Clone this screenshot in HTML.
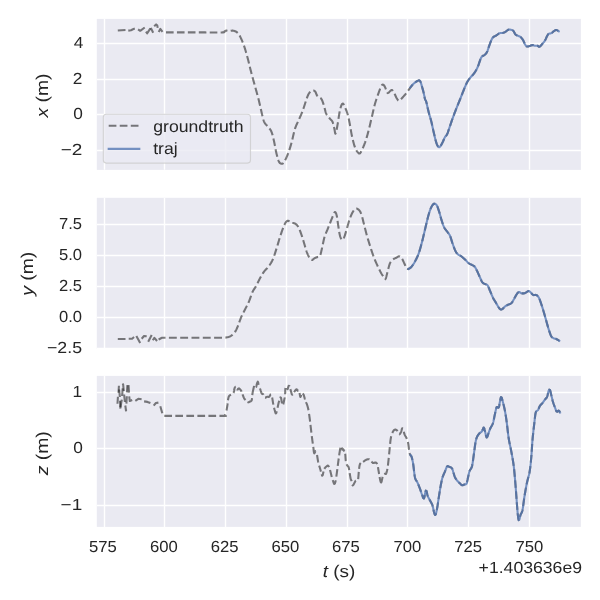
<!DOCTYPE html>
<html><head><meta charset="utf-8"><title>traj xyz</title>
<style>
html,body{margin:0;padding:0;background:#fff;}
body{width:600px;height:600px;overflow:hidden;}
svg{display:block;will-change:transform;}
text{text-rendering:geometricPrecision;font-family:"Liberation Sans",sans-serif;fill:#262626;}
.it{font-style:italic;}
</style></head><body>
<svg width="600" height="600" viewBox="0 0 600 600">
<rect width="600" height="600" fill="#ffffff"/>
<g>
<rect x="96.8" y="18.9" width="484.1" height="151.0" fill="#eaeaf2"/>
<clipPath id="c0"><rect x="96.8" y="18.9" width="484.1" height="151.0"/></clipPath>
<g clip-path="url(#c0)" stroke="#ffffff" stroke-width="1.39">
<line x1="104.50" y1="18.9" x2="104.50" y2="169.8"/>
<line x1="164.50" y1="18.9" x2="164.50" y2="169.8"/>
<line x1="225.50" y1="18.9" x2="225.50" y2="169.8"/>
<line x1="286.50" y1="18.9" x2="286.50" y2="169.8"/>
<line x1="347.50" y1="18.9" x2="347.50" y2="169.8"/>
<line x1="407.50" y1="18.9" x2="407.50" y2="169.8"/>
<line x1="468.50" y1="18.9" x2="468.50" y2="169.8"/>
<line x1="529.50" y1="18.9" x2="529.50" y2="169.8"/>
<line x1="96.8" y1="43.50" x2="581.0" y2="43.50"/>
<line x1="96.8" y1="79.50" x2="581.0" y2="79.50"/>
<line x1="96.8" y1="114.50" x2="581.0" y2="114.50"/>
<line x1="96.8" y1="150.50" x2="581.0" y2="150.50"/>
</g>
</g>
<g>
<rect x="96.8" y="197.8" width="484.1" height="151.2" fill="#eaeaf2"/>
<clipPath id="c1"><rect x="96.8" y="197.8" width="484.1" height="151.2"/></clipPath>
<g clip-path="url(#c1)" stroke="#ffffff" stroke-width="1.39">
<line x1="104.50" y1="197.8" x2="104.50" y2="349.1"/>
<line x1="164.50" y1="197.8" x2="164.50" y2="349.1"/>
<line x1="225.50" y1="197.8" x2="225.50" y2="349.1"/>
<line x1="286.50" y1="197.8" x2="286.50" y2="349.1"/>
<line x1="347.50" y1="197.8" x2="347.50" y2="349.1"/>
<line x1="407.50" y1="197.8" x2="407.50" y2="349.1"/>
<line x1="468.50" y1="197.8" x2="468.50" y2="349.1"/>
<line x1="529.50" y1="197.8" x2="529.50" y2="349.1"/>
<line x1="96.8" y1="224.50" x2="581.0" y2="224.50"/>
<line x1="96.8" y1="255.50" x2="581.0" y2="255.50"/>
<line x1="96.8" y1="286.50" x2="581.0" y2="286.50"/>
<line x1="96.8" y1="317.50" x2="581.0" y2="317.50"/>
<line x1="96.8" y1="348.50" x2="581.0" y2="348.50"/>
</g>
</g>
<g>
<rect x="96.8" y="375.9" width="484.1" height="151.0" fill="#eaeaf2"/>
<clipPath id="c2"><rect x="96.8" y="375.9" width="484.1" height="151.0"/></clipPath>
<g clip-path="url(#c2)" stroke="#ffffff" stroke-width="1.39">
<line x1="104.50" y1="375.9" x2="104.50" y2="527.0"/>
<line x1="164.50" y1="375.9" x2="164.50" y2="527.0"/>
<line x1="225.50" y1="375.9" x2="225.50" y2="527.0"/>
<line x1="286.50" y1="375.9" x2="286.50" y2="527.0"/>
<line x1="347.50" y1="375.9" x2="347.50" y2="527.0"/>
<line x1="407.50" y1="375.9" x2="407.50" y2="527.0"/>
<line x1="468.50" y1="375.9" x2="468.50" y2="527.0"/>
<line x1="529.50" y1="375.9" x2="529.50" y2="527.0"/>
<line x1="96.8" y1="392.50" x2="581.0" y2="392.50"/>
<line x1="96.8" y1="448.50" x2="581.0" y2="448.50"/>
<line x1="96.8" y1="505.50" x2="581.0" y2="505.50"/>
</g>
</g>
<g clip-path="url(#c0)" fill="none" stroke-linejoin="round">
<path d="M117.80,30.50 L121.50,30.20 L125.50,30.00" stroke="rgba(0,0,0,0.5)" stroke-width="2.08"/>
<path d="M128.30,30.60 L131.00,30.20 L133.00,29.20 L134.80,28.60" stroke="rgba(0,0,0,0.5)" stroke-width="2.08"/>
<path d="M138.10,29.30 L140.20,30.80 L144.70,27.50" stroke="rgba(0,0,0,0.5)" stroke-width="2.08"/>
<path d="M146.00,31.60 L147.10,33.30 L150.40,28.40" stroke="rgba(0,0,0,0.5)" stroke-width="2.08"/>
<path d="M150.80,27.90 L153.20,32.80" stroke="rgba(0,0,0,0.5)" stroke-width="2.08"/>
<path d="M154.20,26.20 L156.10,24.40 L157.30,25.60 L157.70,27.90" stroke="rgba(0,0,0,0.5)" stroke-width="2.08"/>
<path d="M158.70,31.90 L160.30,28.90 L162.50,31.90" stroke="rgba(0,0,0,0.5)" stroke-width="2.08"/>
<path d="M166,32.40 L166.82,32.40 L167.61,32.40 L168.49,32.40 L169.26,32.40 L170.08,32.40 L170.94,32.40 L171.85,32.40 L172.56,32.40 L173.29,32.40 L174.04,32.40 L174.81,32.40 L175.59,32.40 L176.39,32.40 L177.21,32.40 L178.04,32.40 L178.88,32.40 L179.73,32.40 L180.58,32.40 L181.45,32.40 L182.32,32.40 L183.19,32.40 L184.07,32.40 L184.95,32.40 L185.83,32.40 L186.71,32.40 L187.58,32.40 L188.45,32.40 L189.32,32.40 L190.17,32.40 L191.02,32.40 L191.86,32.40 L192.69,32.40 L193.50,32.40 L194.30,32.40 L195.08,32.40 L195.85,32.40 L196.60,32.40 L197.32,32.40 L198.03,32.40 L198.93,32.40 L199.79,32.40 L200.62,32.40 L201.55,32.40 L202.47,32.40 L203.39,32.41 L204.30,32.41 L205.20,32.41 L206.10,32.42 L206.99,32.42 L207.86,32.43 L208.73,32.43 L209.58,32.44 L210.42,32.44 L211.25,32.45 L212.06,32.45 L212.86,32.45 L213.64,32.46 L214.40,32.46 L215.14,32.46 L215.86,32.47 L216.56,32.47 L217.47,32.47 L218.33,32.46 L219.14,32.46 L219.91,32.45 L220.64,32.44 L221.47,32.43 L222.22,32.41 L223.62,32.34 L224.33,32.26 L224.50,31.50 L225.11,31.11 L225.71,30.73 L226.44,30.59 L227.33,30.68 L228.08,30.82 L228.83,30.94 L229.76,30.99 L230.48,30.88 L231.36,30.68 L232.26,30.60 L233.01,30.66 L233.73,30.78 L234.43,30.97 L235.13,31.19 L235.80,31.49 L236.43,31.87 L237.15,32.43 L237.68,32.93 L238.20,33.50 L238.67,34.04 L239.10,34.60 L239.49,35.25 L240,36.25 L240.30,36.88 L240.64,37.59 L241.01,38.38 L241.40,39.23 L241.70,39.90 L242.01,40.60 L242.32,41.33 L242.64,42.09 L242.95,42.86 L243.26,43.65 L243.56,44.46 L243.82,45.20 L244.10,46.02 L244.39,46.87 L244.67,47.75 L244.88,48.42 L245.09,49.10 L245.31,49.80 L245.52,50.50 L245.73,51.22 L245.94,51.94 L246.16,52.68 L246.37,53.42 L246.58,54.17 L246.79,54.93 L247,55.70 L247.22,56.47 L247.43,57.24 L247.62,57.95 L247.80,58.63 L247.98,59.32 L248.17,60.03 L248.35,60.74 L248.53,61.47 L248.71,62.20 L248.89,62.94 L249.07,63.68 L249.25,64.42 L249.44,65.17 L249.62,65.92 L249.80,66.67 L249.98,67.42 L250.16,68.16 L250.34,68.90 L250.52,69.64 L250.71,70.37 L250.89,71.09 L251.07,71.80 L251.25,72.50 L251.44,73.24 L251.64,73.97 L251.83,74.70 L252.03,75.43 L252.22,76.14 L252.41,76.86 L252.61,77.57 L252.80,78.28 L253,78.98 L253.19,79.69 L253.38,80.39 L253.58,81.09 L253.77,81.79 L253.97,82.49 L254.16,83.19 L254.35,83.89 L254.55,84.60 L254.74,85.30 L254.94,86.01 L255.13,86.72 L255.32,87.43 L255.52,88.13 L255.71,88.82 L255.91,89.51 L256.10,90.20 L256.29,90.89 L256.49,91.58 L256.68,92.28 L256.88,92.97 L257.07,93.67 L257.26,94.37 L257.46,95.07 L257.65,95.79 L257.84,96.51 L258.04,97.24 L258.23,97.98 L258.43,98.72 L258.62,99.49 L258.81,100.23 L258.98,100.92 L259.15,101.64 L259.33,102.39 L259.50,103.15 L259.68,103.92 L259.86,104.71 L260.04,105.51 L260.23,106.32 L260.41,107.12 L260.59,107.93 L260.76,108.73 L260.94,109.52 L261.11,110.30 L261.29,111.06 L261.45,111.81 L261.62,112.54 L261.78,113.24 L261.98,114.13 L262.18,114.96 L262.37,115.72 L262.60,116.65 L262.79,117.40 L263.04,118.36 L263.26,119.17 L263.45,119.85 L263.70,120.62 L263.95,121.31 L264.24,121.97 L264.63,122.74 L265.02,123.39 L265.45,123.95 L266.04,124.62 L266.67,125.28 L267.17,125.84 L267.63,126.42 L268.19,127.08 L268.79,127.74 L269.41,128.44 L269.86,129 L270.31,129.60 L270.73,130.26 L271.13,130.99 L271.50,131.82 L271.80,132.62 L272.08,133.46 L272.35,134.35 L272.55,135.04 L272.74,135.76 L272.92,136.50 L273.11,137.27 L273.30,138.06 L273.49,138.87 L273.68,139.71 L273.85,140.43 L274.04,141.32 L274.19,142.03 L274.34,142.76 L274.49,143.52 L274.63,144.29 L274.78,145.07 L274.93,145.85 L275.07,146.65 L275.22,147.43 L275.37,148.21 L275.51,148.98 L275.66,149.74 L275.81,150.47 L275.96,151.18 L276.15,152.07 L276.32,152.79 L276.52,153.64 L276.72,154.48 L276.93,155.30 L277.13,156.10 L277.33,156.88 L277.53,157.62 L277.74,158.33 L277.94,159.01 L278.21,159.84 L278.48,160.59 L278.75,161.25 L279.08,161.93 L279.58,162.69 L280.08,163.20 L280.75,163.59 L281.45,163.80 L282.23,163.81 L283.04,163.34 L283.75,162.50 L284.23,161.77 L284.65,161.06 L285.09,160.26 L285.43,159.60 L285.78,158.91 L286.13,158.18 L286.48,157.41 L286.82,156.63 L287.16,155.82 L287.50,155 L287.81,154.21 L288.13,153.39 L288.44,152.54 L288.75,151.67 L288.98,151 L289.22,150.31 L289.45,149.61 L289.69,148.89 L289.92,148.16 L290.16,147.42 L290.39,146.66 L290.62,145.89 L290.86,145.10 L291.09,144.29 L291.31,143.54 L291.55,142.65 L291.73,141.95 L291.92,141.23 L292.10,140.49 L292.28,139.74 L292.46,138.97 L292.64,138.19 L292.82,137.41 L293,136.62 L293.19,135.83 L293.37,135.05 L293.55,134.27 L293.73,133.51 L293.91,132.76 L294.09,132.03 L294.27,131.32 L294.46,130.63 L294.70,129.76 L294.94,128.94 L295.19,128.16 L295.48,127.32 L295.77,126.55 L296.06,125.83 L296.35,125.15 L296.63,124.50 L297.02,123.68 L297.40,122.88 L297.79,122.09 L298.17,121.28 L298.56,120.44 L298.85,119.78 L299.13,119.11 L299.42,118.46 L299.71,117.82 L300,117.18 L300.29,116.53 L300.58,115.89 L300.87,115.24 L301.15,114.58 L301.44,113.90 L301.73,113.21 L302.02,112.49 L302.31,111.76 L302.58,111.04 L302.90,110.16 L303.14,109.46 L303.38,108.74 L303.63,108 L303.88,107.25 L304.13,106.49 L304.37,105.72 L304.62,104.96 L304.86,104.21 L305.09,103.47 L305.32,102.75 L305.55,102.06 L305.84,101.18 L306.12,100.38 L306.36,99.68 L306.68,98.77 L306.97,97.94 L307.25,97.18 L307.50,96.47 L307.76,95.82 L308.10,95.01 L308.46,94.27 L308.91,93.48 L309.42,92.75 L309.94,92.11 L310.47,91.57 L311.20,91.03 L311.98,90.67 L312.68,90.51 L313.41,90.50 L314.12,90.68 L314.79,91.07 L315.35,91.70 L315.78,92.52 L316.07,93.24 L316.37,94.01 L316.67,94.77 L317,95.47 L317.37,96.08 L317.85,96.60 L318.63,97.10 L319.48,97.47 L320.12,97.77 L320.71,98.17 L321.25,98.75 L321.69,99.45 L322.08,100.25 L322.36,100.91 L322.62,101.60 L322.88,102.34 L323.13,103.11 L323.39,103.90 L323.66,104.72 L323.88,105.42 L324.14,106.32 L324.33,107.04 L324.52,107.79 L324.70,108.55 L324.89,109.32 L325.08,110.09 L325.28,110.85 L325.48,111.59 L325.70,112.29 L326,113.16 L326.37,114.01 L326.77,114.75 L327.20,115.42 L327.66,116.04 L328.12,116.61 L328.59,117.14 L329.19,117.81 L329.75,118.44 L330.19,118.99 L330.73,119.56 L331.38,120.17 L331.96,120.82 L332.37,121.48 L332.66,122.13 L332.95,122.98 L333.16,123.69 L333.36,124.45 L333.54,125.22 L333.73,126.01 L333.90,126.78 L334.08,127.53 L334.26,128.26 L334.44,129.16 L334.62,130.15 L334.78,131.17 L334.94,132.12 L335.11,132.93 L335.34,133.64 L335.93,133.06 L336.12,132.35 L336.33,131.45 L336.48,130.67 L336.64,129.82 L336.80,128.92 L336.97,127.97 L337.14,126.99 L337.32,125.99 L337.50,125 L337.65,124.18 L337.80,123.28 L337.91,122.56 L338.03,121.81 L338.15,121.03 L338.28,120.24 L338.40,119.43 L338.52,118.60 L338.65,117.77 L338.78,116.95 L338.90,116.12 L339.03,115.31 L339.16,114.51 L339.29,113.74 L339.41,112.99 L339.54,112.27 L339.71,111.38 L339.88,110.56 L340.09,109.62 L340.27,108.89 L340.45,108.21 L340.73,107.25 L341.01,106.40 L341.28,105.64 L341.55,104.99 L341.91,104.28 L342.34,103.66 L343.08,103.47 L343.60,104.25 L344.01,105.18 L344.33,105.89 L344.66,106.58 L345,107.31 L345.37,108.13 L345.66,108.80 L345.95,109.51 L346.25,110.23 L346.54,110.98 L346.82,111.74 L347.09,112.50 L347.34,113.25 L347.57,113.97 L347.83,114.86 L348.06,115.73 L348.28,116.61 L348.48,117.51 L348.63,118.20 L348.78,118.92 L348.94,119.67 L349.09,120.46 L349.26,121.30 L349.44,122.19 L349.58,122.91 L349.74,123.77 L349.91,124.69 L350.04,125.40 L350.16,126.14 L350.29,126.89 L350.42,127.66 L350.55,128.43 L350.69,129.22 L350.82,130.01 L350.96,130.79 L351.10,131.58 L351.23,132.36 L351.38,133.13 L351.52,133.88 L351.66,134.62 L351.80,135.33 L351.95,136.03 L352.12,136.78 L352.30,137.58 L352.48,138.39 L352.67,139.19 L352.86,139.98 L353.05,140.76 L353.24,141.54 L353.44,142.30 L353.63,143.04 L353.83,143.76 L354.03,144.46 L354.29,145.35 L354.55,146.19 L354.81,146.96 L355.13,147.83 L355.51,148.74 L355.91,149.54 L356.30,150.24 L356.69,150.85 L357.20,151.54 L357.67,152.12 L358.26,152.80 L358.93,153.41 L359.76,153.42 L360.33,152.91 L360.78,152.25 L361.13,151.63 L361.49,150.92 L361.86,150.14 L362.24,149.32 L362.58,148.57 L362.92,147.81 L363.28,147.02 L363.63,146.19 L363.91,145.53 L364.18,144.85 L364.46,144.14 L364.74,143.40 L365.03,142.62 L365.31,141.81 L365.57,141.05 L365.84,140.23 L366.11,139.37 L366.38,138.48 L366.59,137.79 L366.80,137.09 L367,136.38 L367.21,135.65 L367.42,134.91 L367.63,134.16 L367.84,133.40 L368.05,132.63 L368.26,131.85 L368.47,131.06 L368.68,130.27 L368.86,129.56 L369.04,128.88 L369.21,128.19 L369.38,127.48 L369.55,126.77 L369.73,126.04 L369.90,125.31 L370.07,124.57 L370.25,123.83 L370.42,123.08 L370.59,122.33 L370.76,121.58 L370.94,120.83 L371.11,120.09 L371.28,119.35 L371.44,118.62 L371.61,117.90 L371.78,117.18 L371.95,116.48 L372.12,115.75 L372.30,114.99 L372.47,114.25 L372.64,113.50 L372.81,112.76 L372.97,112.03 L373.14,111.29 L373.30,110.57 L373.47,109.84 L373.64,109.12 L373.80,108.41 L373.97,107.70 L374.15,106.99 L374.32,106.29 L374.50,105.59 L374.68,104.90 L374.87,104.21 L375.07,103.50 L375.29,102.75 L375.52,102 L375.75,101.24 L376,100.48 L376.24,99.72 L376.49,98.97 L376.74,98.23 L376.99,97.49 L377.24,96.77 L377.48,96.06 L377.73,95.38 L377.96,94.71 L378.26,93.86 L378.55,93.06 L378.86,92.18 L379.19,91.26 L379.51,90.41 L379.80,89.62 L380.08,88.90 L380.35,88.23 L380.69,87.43 L381.01,86.72 L381.45,85.87 L381.82,85.26 L382.32,84.68 L383,84.50 L383.73,84.99 L384.18,85.59 L384.66,86.38 L385,87 L385.34,87.77 L385.61,88.50 L385.89,89.30 L386.17,90.13 L386.46,90.94 L386.74,91.68 L387.12,92.49" stroke="rgba(0,0,0,0.5)" stroke-width="2.08" stroke-dasharray="7.63 3.30"/>
<path d="M387.12,92.49 L387.69,93.12 L388.48,92.87 L389.07,92.24 L389.64,91.57 L390.22,91.08 L390.81,90.47 L391.38,89.99 L392.12,90.08 L392.62,90.60 L393.15,91.37 L393.56,92.06 L393.96,92.79 L394.37,93.52 L394.72,94.15 L395.05,94.81 L395.38,95.52 L395.71,96.24 L396.04,96.95 L396.37,97.63 L396.79,98.42 L397.18,99.02 L397.68,99.76 L398.16,100.35 L398.85,100.76 L399.55,100.63 L400.19,100.15 L400.69,99.61 L401.22,99 L401.77,98.34 L402.32,97.70 L402.81,97.17 L403.29,96.65 L403.79,96.11 L404.29,95.55 L404.80,94.98 L405.29,94.40 L405.78,93.82 L406.25,93.25 L406.70,92.68 L407.13,92.09 L407.55,91.50 L407.96,90.91 L408.37,90.32 L408.79,89.73 L409.21,89.14 L409.65,88.55 L410.10,87.95 L410.56,87.33 L411.03,86.71 L411.50,86.10 L411.96,85.51 L412.42,84.96 L413,84.30 L413.60,83.69 L414.19,83.16 L414.76,82.70 L415.49,82.16 L416.24,81.64 L416.94,81.23 L417.58,80.91 L418.30,80.60 L419.01,80.30 L419.66,80.59 L420.20,81.22 L420.60,82 L420.87,82.74 L421.14,83.62 L421.35,84.37 L421.56,85.16 L421.80,86 L422.04,86.83 L422.30,87.71 L422.51,88.41 L422.71,89.13 L422.92,89.87 L423.13,90.64 L423.33,91.43 L423.51,92.15 L423.67,92.88 L423.84,93.65 L424,94.45 L424.17,95.26 L424.33,96.06 L424.49,96.84 L424.65,97.57 L424.85,98.45 L425.10,99.34 L425.45,100.05 L425.88,100.71 L426.25,101.80 L426.43,102.48 L426.63,103.29 L426.84,104.20 L427.01,104.94 L427.18,105.71 L427.36,106.51 L427.54,107.32 L427.73,108.15 L427.91,108.97 L428.10,109.78 L428.28,110.57 L428.46,111.33 L428.64,112.05 L428.82,112.76 L429.02,113.52 L429.22,114.24 L429.43,114.94 L429.63,115.62 L429.90,116.51 L430.17,117.40 L430.44,118.30 L430.64,118.99 L430.84,119.71 L431.05,120.46 L431.25,121.25 L431.46,122.12 L431.62,122.80 L431.78,123.50 L431.94,124.22 L432.10,124.94 L432.26,125.68 L432.42,126.42 L432.58,127.17 L432.74,127.92 L432.90,128.67 L433.06,129.41 L433.22,130.14 L433.38,130.87 L433.54,131.58 L433.70,132.27 L433.87,133.01 L434.05,133.78 L434.23,134.57 L434.42,135.35 L434.60,136.14 L434.79,136.92 L434.97,137.69 L435.15,138.44 L435.33,139.17 L435.51,139.87 L435.75,140.76 L435.98,141.58 L436.20,142.33 L436.48,143.21 L436.82,144.14 L437.14,144.91 L437.45,145.56 L437.85,146.23 L438.48,146.98 L439.30,147.25 L440,146.75 L440.45,146.19 L440.95,145.42 L441.33,144.73 L441.73,144 L442.12,143.25 L442.50,142.50 L442.91,141.66 L443.21,140.97 L443.52,140.25 L443.83,139.52 L444.14,138.81 L444.43,138.14 L444.82,137.34 L445.17,136.72 L445.64,136.16 L446.22,135.65 L446.67,135.10 L447.08,134.34 L447.38,133.61 L447.70,132.79 L447.94,132.11 L448.19,131.39 L448.44,130.64 L448.70,129.87 L448.96,129.08 L449.23,128.29 L449.50,127.50 L449.79,126.66 L450.09,125.79 L450.38,124.91 L450.61,124.23 L450.84,123.54 L451.08,122.85 L451.32,122.14 L451.56,121.43 L451.81,120.70 L452.06,119.98 L452.32,119.24 L452.58,118.53 L452.82,117.86 L453.07,117.19 L453.32,116.49 L453.58,115.79 L453.84,115.09 L454.11,114.38 L454.37,113.66 L454.64,112.95 L454.91,112.23 L455.18,111.52 L455.45,110.82 L455.72,110.12 L455.99,109.43 L456.25,108.75 L456.53,108.03 L456.81,107.32 L457.09,106.62 L457.37,105.93 L457.66,105.24 L457.94,104.55 L458.22,103.87 L458.50,103.18 L458.78,102.50 L459.06,101.81 L459.34,101.12 L459.62,100.43 L459.91,99.73 L460.18,99.04 L460.46,98.34 L460.74,97.63 L461.02,96.92 L461.30,96.20 L461.58,95.48 L461.86,94.76 L462.14,94.05 L462.41,93.34 L462.69,92.64 L462.96,91.96 L463.23,91.29 L463.49,90.63 L463.86,89.74 L464.17,88.98 L464.48,88.22 L464.78,87.48 L465.08,86.76 L465.37,86.05 L465.66,85.37 L465.95,84.70 L466.34,83.86 L466.72,83.06 L467.14,82.23 L467.55,81.50 L467.95,80.84 L468.34,80.24 L468.86,79.49 L469.41,78.76 L469.85,78.20 L470.30,77.63 L470.77,77.10 L471.25,76.58 L471.74,76.07 L472.25,75.55 L472.75,74.99 L473.26,74.40 L473.75,73.75 L474.25,73.05 L474.75,72.32 L475.25,71.57 L475.75,70.78 L476.12,70.15 L476.50,69.49 L476.88,68.78 L477.25,68.03 L477.59,67.31 L477.94,66.46 L478.20,65.76 L478.47,65.02 L478.74,64.25 L479.01,63.46 L479.27,62.66 L479.54,61.87 L479.80,61.09 L480.07,60.33 L480.33,59.62 L480.58,58.95 L480.92,58.16 L481.25,57.50 L481.66,56.87 L482.27,56.23 L483.05,55.77 L483.80,55.46 L484.50,55 L485.02,54.53 L485.65,53.94 L486.24,53.25 L486.69,52.57 L487.08,51.83 L487.42,51.06 L487.67,50.40 L487.92,49.70 L488.17,48.96 L488.42,48.19 L488.67,47.43 L488.92,46.67 L489.17,45.93 L489.42,45.22 L489.69,44.50 L489.97,43.74 L490.26,42.96 L490.56,42.19 L490.84,41.44 L491.13,40.72 L491.41,40.05 L491.76,39.25 L492.18,38.41 L492.66,37.68 L493.24,37.13 L493.93,36.62 L494.70,36.23 L495.55,35.87 L496.25,35.50 L497.02,34.96 L497.63,34.48 L498.27,33.99 L498.90,33.56 L499.74,33.17 L500.44,33.06 L501.36,33.08 L502.27,33.05 L503.14,32.82 L503.98,32.50 L504.62,32.21 L505.28,31.87 L505.90,31.50 L506.52,31.03 L507.16,30.52 L507.78,30.03 L508.38,29.66 L509.26,29.42 L509.97,29.53 L510.84,29.86 L511.72,30.09 L512.58,30.27 L513.25,30.75 L513.73,31.43 L514.10,32.11 L514.47,32.84 L514.85,33.56 L515.24,34.18 L515.90,34.85 L516.52,35.20 L517.37,35.50 L518.21,35.85 L519.04,36.18 L519.88,36.56 L520.50,37 L521.14,37.60 L521.62,38.12 L522.10,38.71 L522.56,39.34 L523,40 L523.34,40.62 L523.67,41.32 L523.98,42.05 L524.28,42.78 L524.59,43.46 L525,44.25 L525.44,44.97 L525.87,45.59 L526.47,46.23 L527.20,46.54 L528.10,46.43 L528.84,46.18 L529.56,45.90 L530.25,45.68 L530.95,45.41 L531.61,45.16 L532.50,45 L533.41,45.19 L534.09,45.47 L534.77,45.70 L535.70,45.78 L536.63,45.71 L537.50,45.75 L538.19,46.14 L538.81,46.64 L539.65,46.69 L540.28,46.22 L540.77,45.70 L541.28,45.10 L541.82,44.46 L542.28,43.93 L542.89,43.23 L543.37,42.68 L543.85,42.10 L544.31,41.50 L544.74,40.90 L545.13,40.29 L545.49,39.61 L545.82,38.90 L546.13,38.18 L546.42,37.48 L546.71,36.83 L547.14,35.99 L547.53,35.29 L547.91,34.67 L548.44,34.01 L549.16,33.56 L550.07,33.47 L550.79,33.41 L551.44,33.14 L552.02,32.72 L552.60,32.21 L553.17,31.69 L553.75,31.25 L554.38,30.83 L555,30.42 L555.83,30.05 L556.70,30.08 L557.42,30.41 L558.10,30.83 L558.75,31.25" stroke="rgba(0,0,0,0.5)" stroke-width="2.08" stroke-dasharray="7.71 3.33"/>
<path d="M410.40,87.30 L410.86,86.75 L411.34,86.17 L411.88,85.52 L412.45,84.87 L413,84.30 L413.55,83.78 L414.13,83.27 L414.71,82.78 L415.29,82.32 L416,81.80 L416.71,81.35 L417.38,81 L418.14,80.67 L418.82,80.36 L419.53,80.49 L420.06,81.03 L420.47,81.71 L420.81,82.54 L421.07,83.39 L421.28,84.11 L421.49,84.89 L421.72,85.72 L421.92,86.41 L422.17,87.27 L422.37,87.94 L422.57,88.64 L422.78,89.37 L422.99,90.12 L423.20,90.90 L423.40,91.70 L423.56,92.39 L423.73,93.13 L423.89,93.91 L424.06,94.72 L424.22,95.53 L424.39,96.33 L424.55,97.09 L424.70,97.80 L424.90,98.64 L425.10,99.34 L425.45,100.05 L425.88,100.71 L426.25,101.80 L426.43,102.48 L426.63,103.29 L426.84,104.20 L427.01,104.94 L427.18,105.71 L427.36,106.51 L427.54,107.32 L427.73,108.15 L427.91,108.97 L428.10,109.78 L428.28,110.57 L428.46,111.33 L428.64,112.05 L428.82,112.76 L429.02,113.52 L429.22,114.24 L429.43,114.94 L429.63,115.62 L429.90,116.51 L430.17,117.40 L430.44,118.30 L430.64,118.99 L430.84,119.71 L431.05,120.46 L431.25,121.25 L431.46,122.12 L431.62,122.80 L431.78,123.50 L431.94,124.22 L432.10,124.94 L432.26,125.68 L432.42,126.42 L432.58,127.17 L432.74,127.92 L432.90,128.67 L433.06,129.41 L433.22,130.14 L433.38,130.87 L433.54,131.58 L433.70,132.27 L433.87,133.01 L434.05,133.78 L434.23,134.57 L434.42,135.35 L434.60,136.14 L434.79,136.92 L434.97,137.69 L435.15,138.44 L435.33,139.17 L435.51,139.87 L435.75,140.76 L435.98,141.58 L436.20,142.33 L436.48,143.21 L436.82,144.14 L437.14,144.91 L437.45,145.56 L437.85,146.23 L438.48,146.98 L439.30,147.25 L440,146.75 L440.45,146.19 L440.95,145.42 L441.33,144.73 L441.73,144 L442.12,143.25 L442.50,142.50 L442.91,141.66 L443.21,140.97 L443.52,140.25 L443.83,139.52 L444.14,138.81 L444.43,138.14 L444.82,137.34 L445.17,136.72 L445.64,136.16 L446.22,135.65 L446.67,135.10 L447.08,134.34 L447.38,133.61 L447.70,132.79 L447.94,132.11 L448.19,131.39 L448.44,130.64 L448.70,129.87 L448.96,129.08 L449.23,128.29 L449.50,127.50 L449.79,126.66 L450.09,125.79 L450.38,124.91 L450.61,124.23 L450.84,123.54 L451.08,122.85 L451.32,122.14 L451.56,121.43 L451.81,120.70 L452.06,119.98 L452.32,119.24 L452.58,118.53 L452.82,117.86 L453.07,117.19 L453.32,116.49 L453.58,115.79 L453.84,115.09 L454.11,114.38 L454.37,113.66 L454.64,112.95 L454.91,112.23 L455.18,111.52 L455.45,110.82 L455.72,110.12 L455.99,109.43 L456.25,108.75 L456.53,108.03 L456.81,107.32 L457.09,106.62 L457.37,105.93 L457.66,105.24 L457.94,104.55 L458.22,103.87 L458.50,103.18 L458.78,102.50 L459.06,101.81 L459.34,101.12 L459.62,100.43 L459.91,99.73 L460.18,99.04 L460.46,98.34 L460.74,97.63 L461.02,96.92 L461.30,96.20 L461.58,95.48 L461.86,94.76 L462.14,94.05 L462.41,93.34 L462.69,92.64 L462.96,91.96 L463.23,91.29 L463.49,90.63 L463.86,89.74 L464.17,88.98 L464.48,88.22 L464.78,87.48 L465.08,86.76 L465.37,86.05 L465.66,85.37 L465.95,84.70 L466.34,83.86 L466.72,83.06 L467.14,82.23 L467.55,81.50 L467.95,80.84 L468.34,80.24 L468.86,79.49 L469.41,78.76 L469.85,78.20 L470.30,77.63 L470.77,77.10 L471.25,76.58 L471.74,76.07 L472.25,75.55 L472.75,74.99 L473.26,74.40 L473.75,73.75 L474.25,73.05 L474.75,72.32 L475.25,71.57 L475.75,70.78 L476.12,70.15 L476.50,69.49 L476.88,68.78 L477.25,68.03 L477.59,67.31 L477.94,66.46 L478.20,65.76 L478.47,65.02 L478.74,64.25 L479.01,63.46 L479.27,62.66 L479.54,61.87 L479.80,61.09 L480.07,60.33 L480.33,59.62 L480.58,58.95 L480.92,58.16 L481.25,57.50 L481.66,56.87 L482.27,56.23 L483.05,55.77 L483.80,55.46 L484.50,55 L485.02,54.53 L485.65,53.94 L486.24,53.25 L486.69,52.57 L487.08,51.83 L487.42,51.06 L487.67,50.40 L487.92,49.70 L488.17,48.96 L488.42,48.19 L488.67,47.43 L488.92,46.67 L489.17,45.93 L489.42,45.22 L489.69,44.50 L489.97,43.74 L490.26,42.96 L490.56,42.19 L490.84,41.44 L491.13,40.72 L491.41,40.05 L491.76,39.25 L492.18,38.41 L492.66,37.68 L493.24,37.13 L493.93,36.62 L494.70,36.23 L495.55,35.87 L496.25,35.50 L497.02,34.96 L497.63,34.48 L498.27,33.99 L498.90,33.56 L499.74,33.17 L500.44,33.06 L501.36,33.08 L502.27,33.05 L503.14,32.82 L503.98,32.50 L504.62,32.21 L505.28,31.87 L505.90,31.50 L506.52,31.03 L507.16,30.52 L507.78,30.03 L508.38,29.66 L509.26,29.42 L509.97,29.53 L510.84,29.86 L511.72,30.09 L512.58,30.27 L513.25,30.75 L513.73,31.43 L514.10,32.11 L514.47,32.84 L514.85,33.56 L515.24,34.18 L515.90,34.85 L516.52,35.20 L517.37,35.50 L518.21,35.85 L519.04,36.18 L519.88,36.56 L520.50,37 L521.14,37.60 L521.62,38.12 L522.10,38.71 L522.56,39.34 L523,40 L523.34,40.62 L523.67,41.32 L523.98,42.05 L524.28,42.78 L524.59,43.46 L525,44.25 L525.44,44.97 L525.87,45.59 L526.47,46.23 L527.20,46.54 L528.10,46.43 L528.84,46.18 L529.56,45.90 L530.25,45.68 L530.95,45.41 L531.61,45.16 L532.50,45 L533.41,45.19 L534.09,45.47 L534.77,45.70 L535.70,45.78 L536.63,45.71 L537.50,45.75 L538.19,46.14 L538.81,46.64 L539.65,46.69 L540.28,46.22 L540.77,45.70 L541.28,45.10 L541.82,44.46 L542.28,43.93 L542.89,43.23 L543.37,42.68 L543.85,42.10 L544.31,41.50 L544.74,40.90 L545.13,40.29 L545.49,39.61 L545.82,38.90 L546.13,38.18 L546.42,37.48 L546.71,36.83 L547.14,35.99 L547.53,35.29 L547.91,34.67 L548.44,34.01 L549.16,33.56 L550.07,33.47 L550.79,33.41 L551.44,33.14 L552.02,32.72 L552.60,32.21 L553.17,31.69 L553.75,31.25 L554.38,30.83 L555,30.42 L555.83,30.05 L556.70,30.08 L557.42,30.41 L558.10,30.83 L558.75,31.25" stroke="rgba(76,114,176,0.75)" stroke-width="2.08" stroke-linecap="square"/>
</g>
<g clip-path="url(#c1)" fill="none" stroke-linejoin="round">
<path d="M117.80,339.00 L125.50,339.00" stroke="rgba(0,0,0,0.5)" stroke-width="2.08"/>
<path d="M128.70,338.70 L132.10,338.70 L134.05,337.05" stroke="rgba(0,0,0,0.5)" stroke-width="2.08"/>
<path d="M136.35,336.05 L140.20,342.95" stroke="rgba(0,0,0,0.5)" stroke-width="2.08"/>
<path d="M141.70,338.70 L144.00,336.05 L146.70,336.30" stroke="rgba(0,0,0,0.5)" stroke-width="2.08"/>
<path d="M148.20,341.65 L151.70,335.05" stroke="rgba(0,0,0,0.5)" stroke-width="2.08"/>
<path d="M152.80,340.30 L154.40,337.80 L157.05,341.00" stroke="rgba(0,0,0,0.5)" stroke-width="2.08"/>
<path d="M158.60,339.50 L162.00,337.80 L165.50,337.80" stroke="rgba(0,0,0,0.5)" stroke-width="2.08"/>
<path d="M168.90,337.75 L169.73,337.75 L170.54,337.75 L171.26,337.75 L172.04,337.75 L172.87,337.75 L173.76,337.75 L174.69,337.75 L175.42,337.75 L176.17,337.75 L176.94,337.75 L177.73,337.75 L178.53,337.75 L179.36,337.75 L180.19,337.75 L181.04,337.75 L181.90,337.75 L182.76,337.75 L183.64,337.75 L184.51,337.75 L185.40,337.75 L186.28,337.75 L187.16,337.75 L188.04,337.75 L188.92,337.75 L189.79,337.75 L190.65,337.75 L191.50,337.75 L192.35,337.75 L193.18,337.75 L193.99,337.75 L194.79,337.75 L195.57,337.75 L196.34,337.75 L197.08,337.75 L197.80,337.75 L198.71,337.75 L199.58,337.75 L200.31,337.75 L201.25,337.75 L202.18,337.75 L203.09,337.75 L203.99,337.75 L204.87,337.75 L205.74,337.76 L206.60,337.76 L207.44,337.76 L208.27,337.76 L209.09,337.76 L209.88,337.76 L210.66,337.76 L211.43,337.77 L212.17,337.77 L212.90,337.77 L213.62,337.77 L214.54,337.77 L215.43,337.77 L216.28,337.77 L217.10,337.77 L217.88,337.76 L218.62,337.76 L219.33,337.76 L220.49,337.75 L221.35,337.74 L222.08,337.74 L222.98,337.74 L223.88,337.74 L224.72,337.71 L225.49,337.62 L226.25,337.50 L227.01,337.35 L227.74,337.19 L228.45,336.99 L229.13,336.77 L229.79,336.51 L230.43,336.21 L231.05,335.87 L231.64,335.49 L232.38,334.94 L232.91,334.48 L233.42,333.99 L233.91,333.45 L234.38,332.86 L234.85,332.22" stroke="rgba(0,0,0,0.5)" stroke-width="2.08" stroke-dasharray="7.89 3.41"/>
<path d="M234.85,332.22 L235.24,331.64 L235.69,330.87 L236.12,330.05 L236.43,329.41 L236.74,328.73 L237.04,328.03 L237.35,327.30 L237.67,326.54 L238,325.75 L238.33,324.93 L238.58,324.27 L238.82,323.59 L239.07,322.89 L239.33,322.18 L239.58,321.45 L239.83,320.72 L240.09,320 L240.35,319.28 L240.62,318.57 L240.89,317.88 L241.16,317.22 L241.46,316.53 L241.77,315.83 L242.10,315.15 L242.43,314.48 L242.76,313.82 L243.09,313.17 L243.43,312.53 L243.77,311.88 L244.11,311.24 L244.44,310.59 L244.78,309.94 L245.11,309.28 L245.44,308.63 L245.77,308 L246.10,307.37 L246.43,306.75 L246.76,306.12 L247.10,305.48 L247.43,304.83 L247.76,304.16 L248.09,303.47 L248.42,302.75 L248.75,302 L249.10,301.15 L249.36,300.47 L249.62,299.77 L249.88,299.04 L250.15,298.30 L250.41,297.55 L250.67,296.80 L250.93,296.05 L251.19,295.31 L251.45,294.59 L251.72,293.89 L251.98,293.22 L252.33,292.39 L252.62,291.73 L253,290.99 L253.38,290.31 L253.75,289.69 L254.12,289.10 L254.62,288.35 L255.12,287.60 L255.62,286.82 L256,286.20 L256.36,285.55 L256.69,284.92 L257.02,284.27 L257.35,283.60 L257.68,282.92 L258.01,282.23 L258.35,281.54 L258.68,280.86 L259.01,280.18 L259.34,279.51 L259.67,278.87 L260,278.25 L260.38,277.57 L260.75,276.89 L261.12,276.22 L261.50,275.56 L261.88,274.92 L262.25,274.30 L262.62,273.69 L263,273.10 L263.50,272.36 L263.91,271.78 L264.40,271.15 L264.89,270.59 L265.38,270.07 L265.87,269.56 L266.36,269.05 L266.85,268.52 L267.34,267.95 L267.79,267.38 L268.24,266.81 L268.69,266.22 L269.15,265.61 L269.60,265 L270.04,264.37 L270.47,263.75 L270.87,263.12 L271.25,262.50 L271.60,261.88 L272.02,261.11 L272.40,260.34 L272.76,259.54 L273.03,258.87 L273.32,258.14 L273.64,257.30 L273.89,256.63 L274.17,255.84 L274.46,254.98 L274.69,254.31 L274.92,253.61 L275.15,252.89 L275.38,252.16 L275.62,251.42 L275.86,250.67 L276.09,249.92 L276.32,249.17 L276.55,248.43 L276.78,247.71 L277,247 L277.22,246.28 L277.44,245.56 L277.66,244.83 L277.88,244.11 L278.09,243.38 L278.30,242.65 L278.52,241.92 L278.73,241.20 L278.94,240.48 L279.15,239.77 L279.36,239.06 L279.57,238.36 L279.79,237.68 L280,237 L280.24,236.26 L280.48,235.51 L280.72,234.77 L280.96,234.03 L281.21,233.30 L281.45,232.58 L281.69,231.87 L281.93,231.18 L282.17,230.51 L282.48,229.65 L282.78,228.83 L283.11,227.97 L283.43,227.15 L283.74,226.38 L284.04,225.65 L284.33,224.97 L284.72,224.14 L285.11,223.40 L285.50,222.75 L286.06,221.97 L286.61,221.36 L287.37,220.87 L288.18,220.77 L288.97,221.13 L289.59,221.59 L290.23,222.10 L290.85,222.54 L291.49,222.83 L292.18,222.95 L293.09,222.98 L294.01,223.15 L294.81,223.52 L295.58,223.95 L296.17,224.35 L296.75,224.86 L297.31,225.50 L297.72,226.07 L298.15,226.77 L298.58,227.55 L298.90,228.19 L299.21,228.86 L299.53,229.58 L299.85,230.35 L300.17,231.15 L300.50,232 L300.79,232.79 L301.09,233.63 L301.32,234.29 L301.55,234.98 L301.78,235.68 L302.01,236.40 L302.24,237.13 L302.47,237.87 L302.70,238.61 L302.93,239.35 L303.16,240.09 L303.38,240.81 L303.60,241.53 L303.82,242.24 L304.05,242.97 L304.27,243.72 L304.49,244.47 L304.71,245.24 L304.92,246 L305.14,246.76 L305.35,247.52 L305.57,248.26 L305.78,248.98 L305.99,249.68 L306.20,250.36 L306.48,251.21 L306.75,252 L307.08,252.88 L307.41,253.69 L307.73,254.44 L308.05,255.14 L308.37,255.78 L308.78,256.57 L309.20,257.27 L309.69,258.03 L310.23,258.76 L310.77,259.34 L311.47,259.85 L312.19,260 L312.94,259.60 L313.50,259.07 L314.09,258.53 L314.70,258.15 L315.56,257.77 L316.22,257.51 L316.88,257.26 L317.73,256.92 L318.60,256.80 L319.42,256.50 L320,255.75 L320.34,254.96" stroke="rgba(0,0,0,0.5)" stroke-width="2.08" stroke-dasharray="7.55 3.26"/>
<path d="M320.34,254.96 L320.58,254.20 L320.82,253.33 L321,252.62 L321.18,251.87 L321.35,251.08 L321.54,250.26 L321.73,249.41 L321.93,248.54 L322.10,247.84 L322.29,246.97 L322.44,246.27 L322.59,245.55 L322.74,244.81 L322.90,244.05 L323.06,243.27 L323.21,242.50 L323.38,241.72 L323.54,240.95 L323.70,240.19 L323.87,239.45 L324.04,238.74 L324.21,238.06 L324.44,237.20 L324.67,236.45 L324.93,235.66 L325.19,234.92 L325.46,234.22 L325.74,233.55 L326.11,232.70 L326.48,231.86 L326.85,231.02 L327.23,230.17 L327.50,229.50 L327.77,228.81 L328.05,228.12 L328.33,227.42 L328.61,226.72 L328.89,226.02 L329.17,225.32 L329.45,224.64 L329.72,223.96 L329.98,223.29 L330.25,222.63 L330.60,221.75 L330.90,220.98 L331.20,220.23 L331.48,219.49 L331.77,218.76 L332.04,218.06 L332.31,217.38 L332.66,216.53 L333,215.75 L333.37,214.89 L333.71,214.04 L334.05,213.25 L334.37,212.60 L334.90,212.02 L335.54,212.36 L335.96,213.13 L336.26,213.96 L336.56,214.98 L336.75,215.75 L336.91,216.48 L337.05,217.31 L337.20,218.22 L337.31,218.95 L337.41,219.71 L337.52,220.49 L337.62,221.29 L337.73,222.10 L337.84,222.90 L337.95,223.70 L338.06,224.49 L338.17,225.26 L338.29,226 L338.41,226.75 L338.53,227.53 L338.65,228.32 L338.77,229.12 L338.89,229.92 L339.02,230.72 L339.14,231.50 L339.27,232.26 L339.40,233 L339.54,233.71 L339.72,234.59 L339.90,235.39 L340.10,236.10 L340.41,237.08 L340.74,237.95 L341.08,238.69 L341.54,239.44 L342.09,239.96 L342.87,239.75 L343.39,238.96 L343.80,238.08 L344.09,237.38 L344.38,236.67 L344.66,235.91 L344.95,235.05 L345.17,234.35 L345.40,233.62 L345.64,232.86 L345.87,232.08 L346.10,231.29 L346.33,230.51 L346.56,229.73 L346.78,228.98 L347,228.25 L347.21,227.54 L347.41,226.81 L347.61,226.08 L347.81,225.35 L348.01,224.62 L348.20,223.89 L348.40,223.16 L348.59,222.44 L348.80,221.74 L349,221.05 L349.21,220.37 L349.50,219.50 L349.77,218.74 L350.05,217.99 L350.33,217.24 L350.62,216.51 L350.92,215.80 L351.22,215.12 L351.51,214.46 L351.81,213.83 L352.21,213.04 L352.65,212.23 L353.10,211.47 L353.54,210.76 L353.98,210.12 L354.43,209.58 L355.04,209.02 L355.73,208.67 L356.43,208.59 L357.16,208.75 L357.87,209.09 L358.54,209.57 L359.17,210.16 L359.68,210.80 L360.17,211.57 L360.52,212.26 L360.88,213.06 L361.25,214 L361.50,214.73 L361.76,215.54 L362.01,216.41 L362.20,217.10 L362.38,217.82 L362.57,218.56 L362.76,219.32 L362.95,220.09 L363.15,220.88 L363.35,221.67 L363.55,222.46 L363.75,223.25 L363.98,224.14 L364.21,225.05 L364.38,225.75 L364.56,226.45 L364.73,227.17 L364.91,227.90 L365.09,228.63 L365.27,229.36 L365.45,230.10 L365.64,230.84 L365.82,231.58 L366.01,232.32 L366.21,233.05 L366.40,233.78 L366.60,234.50 L366.80,235.20 L367,235.91 L367.20,236.61 L367.40,237.31 L367.61,238.02 L367.82,238.72 L368.03,239.42 L368.24,240.12 L368.46,240.83 L368.68,241.53 L368.89,242.23 L369.11,242.94 L369.33,243.64 L369.55,244.34 L369.78,245.05 L370,245.75 L370.22,246.46 L370.45,247.17 L370.68,247.90 L370.91,248.62 L371.15,249.35 L371.38,250.08 L371.62,250.81 L371.85,251.53 L372.09,252.25 L372.33,252.96 L372.57,253.67 L372.80,254.36 L373.04,255.05 L373.28,255.71 L373.59,256.58 L373.85,257.26 L374.13,258.01 L374.42,258.74 L374.71,259.45 L375,260.15 L375.29,260.83 L375.58,261.50 L375.87,262.16 L376.15,262.80 L376.44,263.44 L376.73,264.08 L377.12,264.92 L377.50,265.75 L377.84,266.47 L378.18,267.20 L378.52,267.92 L378.87,268.64 L379.22,269.35 L379.57,270.04 L379.91,270.71 L380.24,271.36 L380.66,272.17 L381.06,272.91 L381.41,273.54 L381.87,274.32 L382.30,274.98 L382.81,275.74 L383.29,276.39 L383.75,277 L384.27,277.92 L384.73,278.80 L385.33,279.16 L385.75,278.53 L386,277.82 L386.26,276.93 L386.45,276.17 L386.65,275.36 L386.86,274.51 L387.06,273.66 L387.28,272.81 L387.50,272 L387.75,271.10 L387.93,270.38 L388.13,269.63 L388.32,268.85 L388.52,268.07 L388.72,267.29 L388.93,266.52 L389.13,265.78 L389.35,265.07 L389.63,264.19 L389.93,263.42 L390.28,262.66 L390.71,261.91 L391.15,261.29 L391.76,260.62 L392.38,260.04 L393,259.50 L393.64,259.02 L394.29,258.64 L394.96,258.34 L395.61,258.05 L396.25,257.75 L396.92,257.35 L397.58,256.91 L398.23,256.52 L399.05,256.25 L399.86,256.41 L400.62,256.93 L401.18,257.51 L401.75,258.25 L402.19,258.95 L402.53,259.57 L402.86,260.26 L403.20,260.97 L403.53,261.69 L403.84,262.39 L404.15,263.04 L404.48,263.74 L404.82,264.49 L405.14,265.23 L405.45,265.94 L405.75,266.60 L406.15,267.34 L406.59,268.03 L407.05,268.64 L407.77,269 L408.51,268.89 L409.29,268.56 L409.93,268.16 L410.59,267.64 L411.25,267 L411.78,266.40 L412.32,265.71 L412.74,265.14 L413.16,264.54 L413.59,263.89 L414.02,263.21 L414.44,262.50 L414.86,261.75 L415.20,261.12 L415.61,260.35 L416.03,259.55 L416.44,258.71 L416.75,258.07 L417.06,257.40 L417.37,256.71 L417.67,256.01 L417.97,255.28 L418.27,254.54 L418.56,253.77 L418.82,253.04 L419.12,252.19 L419.41,251.30 L419.62,250.62 L419.83,249.92 L420.04,249.22 L420.25,248.50 L420.46,247.77 L420.66,247.03 L420.86,246.29 L421.07,245.54 L421.27,244.78 L421.47,244.02 L421.67,243.27 L421.87,242.51 L422.06,241.77 L422.24,241.08 L422.42,240.38 L422.59,239.67 L422.77,238.96 L422.94,238.25 L423.11,237.52 L423.29,236.80 L423.46,236.07 L423.63,235.34 L423.80,234.61 L423.97,233.88 L424.14,233.14 L424.31,232.41 L424.48,231.68 L424.66,230.95 L424.83,230.22 L425,229.50 L425.17,228.77 L425.35,228.03 L425.53,227.28 L425.70,226.52 L425.88,225.76 L426.06,225 L426.24,224.23 L426.41,223.47 L426.59,222.72 L426.77,221.97 L426.94,221.24 L427.11,220.51 L427.29,219.81 L427.45,219.12 L427.68,218.24 L427.89,217.40 L428.08,216.70 L428.32,215.83 L428.55,215 L428.77,214.21 L428.99,213.45 L429.21,212.73 L429.42,212.04 L429.71,211.17 L429.99,210.34 L430.28,209.56 L430.62,208.71 L430.98,207.87 L431.35,207.10 L431.72,206.41 L432.08,205.78 L432.56,205.07 L433,204.50 L433.70,203.87 L434.57,203.66 L435.33,203.88 L435.98,204.31 L436.48,204.89 L437,205.75 L437.32,206.42 L437.64,207.21 L437.89,207.87 L438.14,208.57 L438.39,209.32 L438.64,210.10 L438.90,210.90 L439.16,211.72 L439.38,212.42 L439.64,213.30 L439.84,214 L440.04,214.72 L440.25,215.47 L440.45,216.22 L440.66,216.97 L440.86,217.72 L441.07,218.46 L441.27,219.18 L441.48,219.88 L441.75,220.75 L442.01,221.54 L442.25,222.31 L442.50,223.07 L442.75,223.80 L442.99,224.51 L443.25,225.19 L443.51,225.86 L443.87,226.70 L444.25,227.50 L444.64,228.20 L445.06,228.85 L445.50,229.46 L445.95,230.03 L446.40,230.58 L446.97,231.29 L447.50,232 L447.94,232.59 L448.48,233.28 L448.99,233.94 L449.49,234.73 L449.87,235.47 L450.16,236.12 L450.47,236.93 L450.70,237.61 L450.94,238.32 L451.17,239.06 L451.41,239.82 L451.64,240.58 L451.88,241.34 L452.11,242.08 L452.34,242.79 L452.59,243.50 L452.84,244.24 L453.10,244.99 L453.36,245.74 L453.62,246.48 L453.88,247.20 L454.14,247.91 L454.40,248.58 L454.74,249.42 L455.13,250.28 L455.50,251.05 L455.87,251.75 L456.23,252.38 L456.75,253.14 L457.34,253.83 L457.86,254.32 L458.45,254.72 L459.08,255.07 L459.73,255.38 L460.39,255.72 L461.04,256.10 L461.63,256.53 L462.19,256.98 L462.75,257.45 L463.31,257.95 L463.87,258.46 L464.44,258.98 L465,259.50 L465.52,260 L466.04,260.54 L466.56,261.10 L467.08,261.65 L467.59,262.19 L468.10,262.68 L468.75,263.25 L469.44,263.73 L470.12,264.11 L470.78,264.41 L471.61,264.79 L472.23,265.12 L472.89,265.42 L473.69,265.81 L474.29,266.28 L474.87,266.96 L475.36,267.68 L475.72,268.30 L476.09,268.97 L476.47,269.70 L476.86,270.48 L477.19,271.13 L477.58,271.97 L477.88,272.65 L478.19,273.35 L478.50,274.08 L478.81,274.81 L479.12,275.52 L479.42,276.22 L479.72,276.88 L480.12,277.76 L480.46,278.52 L480.80,279.26 L481.12,279.98 L481.44,280.66 L481.76,281.29 L482.18,282.03 L482.71,282.75 L483.33,283.27 L484.17,283.65 L485,284 L485.83,284.28 L486.67,284.53 L487.29,285 L487.80,285.70 L488.19,286.44 L488.57,287.30 L488.87,288 L489.16,288.73 L489.47,289.49 L489.78,290.25 L490.09,290.95 L490.45,291.81 L490.73,292.49 L491.02,293.18 L491.31,293.89 L491.60,294.61 L491.90,295.32 L492.20,296.01 L492.50,296.69 L492.80,297.34 L493.12,297.99 L493.49,298.69 L493.88,299.37 L494.27,300.03 L494.66,300.67 L495.04,301.29 L495.42,301.90 L495.91,302.68 L496.39,303.49 L496.81,304.22 L497.20,304.92 L497.58,305.59 L497.94,306.23 L498.41,307 L498.93,307.75 L499.46,308.43 L499.96,308.96 L500.59,309.43 L501.39,309.58 L502.25,309.18 L502.95,308.61 L503.45,308.10 L503.96,307.52 L504.49,306.97 L505.20,306.34 L505.79,305.94 L506.57,305.48 L507.25,305.13 L507.89,304.82 L508.55,304.56 L509.26,304.31 L509.97,304.03 L510.65,303.68 L511.25,303.25 L511.86,302.60 L512.39,301.85 L512.76,301.23 L513.12,300.59 L513.49,299.94 L513.87,299.30 L514.23,298.67 L514.58,298 L514.94,297.32 L515.30,296.64 L515.65,295.98 L516.01,295.37 L516.41,294.76 L516.88,294.04 L517.34,293.35 L517.81,292.75 L518.44,292.16 L519.16,291.98 L519.97,292.44 L520.59,292.93 L521.25,293.25 L522.15,293.38 L522.87,293.41 L523.58,293.36 L524.48,293.19 L525.14,292.92 L525.77,292.57 L526.56,292.10 L527.23,291.71 L527.89,291.26 L528.75,291 L529.46,291.32 L530.17,291.95 L530.75,292.50 L531.37,293.16 L531.85,293.75 L532.36,294.31 L532.89,294.78 L533.69,295.11 L534.39,295.07 L535.11,294.93 L535.81,294.89 L536.61,295.18 L537.29,295.63 L537.94,296.28 L538.42,296.95 L538.84,297.66 L539.20,298.40 L539.55,299.24 L539.82,299.93 L540.09,300.65 L540.36,301.40 L540.62,302.18 L540.89,302.96 L541.16,303.74 L541.40,304.43 L541.69,305.31 L541.91,305.99 L542.13,306.68 L542.35,307.39 L542.57,308.10 L542.79,308.82 L543.01,309.55 L543.24,310.28 L543.46,311.02 L543.68,311.75 L543.89,312.45 L544.09,313.14 L544.29,313.84 L544.49,314.55 L544.70,315.26 L544.90,315.97 L545.10,316.69 L545.30,317.41 L545.51,318.13 L545.71,318.84 L545.91,319.56 L546.11,320.28 L546.32,320.99 L546.52,321.71 L546.72,322.43 L546.93,323.17 L547.13,323.90 L547.33,324.64 L547.53,325.37 L547.74,326.10 L547.94,326.81 L548.14,327.51 L548.34,328.19 L548.55,328.86 L548.84,329.77 L549.09,330.57 L549.35,331.37 L549.61,332.16 L549.87,332.93 L550.13,333.66 L550.39,334.35 L550.73,335.20 L551.08,335.93 L551.44,336.56 L552.02,337.26 L552.60,337.68 L553.37,338.06 L554.20,338.45 L555.08,338.66 L555.77,338.82 L556.46,339.10 L557.16,339.48 L557.91,339.92 L558.60,340.35 L559.25,340.75" stroke="rgba(0,0,0,0.5)" stroke-width="2.08" stroke-dasharray="7.71 3.33"/>
<path d="M408.50,269 L409.24,268.58 L409.86,268.21 L410.54,267.70 L411.25,267 L411.75,266.40 L412.29,265.71 L412.71,265.14 L413.13,264.54 L413.57,263.89 L414,263.21 L414.44,262.50 L414.86,261.75 L415.20,261.12 L415.61,260.35 L416.03,259.55 L416.44,258.71 L416.75,258.07 L417.06,257.40 L417.37,256.71 L417.67,256.01 L417.97,255.28 L418.27,254.54 L418.56,253.77 L418.82,253.04 L419.12,252.19 L419.41,251.30 L419.62,250.62 L419.83,249.92 L420.04,249.22 L420.25,248.50 L420.46,247.77 L420.66,247.03 L420.86,246.29 L421.07,245.54 L421.27,244.78 L421.47,244.02 L421.67,243.27 L421.87,242.51 L422.06,241.77 L422.24,241.08 L422.42,240.38 L422.59,239.67 L422.77,238.96 L422.94,238.25 L423.11,237.52 L423.29,236.80 L423.46,236.07 L423.63,235.34 L423.80,234.61 L423.97,233.88 L424.14,233.14 L424.31,232.41 L424.48,231.68 L424.66,230.95 L424.83,230.22 L425,229.50 L425.17,228.77 L425.35,228.03 L425.53,227.28 L425.70,226.52 L425.88,225.76 L426.06,225 L426.24,224.23 L426.41,223.47 L426.59,222.72 L426.77,221.97 L426.94,221.24 L427.11,220.51 L427.29,219.81 L427.45,219.12 L427.68,218.24 L427.89,217.40 L428.08,216.70 L428.32,215.83 L428.55,215 L428.77,214.21 L428.99,213.45 L429.21,212.73 L429.42,212.04 L429.71,211.17 L429.99,210.34 L430.28,209.56 L430.62,208.71 L430.98,207.87 L431.35,207.10 L431.72,206.41 L432.08,205.78 L432.56,205.07 L433,204.50 L433.70,203.87 L434.57,203.66 L435.33,203.88 L435.98,204.31 L436.48,204.89 L437,205.75 L437.32,206.42 L437.64,207.21 L437.89,207.87 L438.14,208.57 L438.39,209.32 L438.64,210.10 L438.90,210.90 L439.16,211.72 L439.38,212.42 L439.64,213.30 L439.84,214 L440.04,214.72 L440.25,215.47 L440.45,216.22 L440.66,216.97 L440.86,217.72 L441.07,218.46 L441.27,219.18 L441.48,219.88 L441.75,220.75 L442.01,221.54 L442.25,222.31 L442.50,223.07 L442.75,223.80 L442.99,224.51 L443.25,225.19 L443.51,225.86 L443.87,226.70 L444.25,227.50 L444.64,228.20 L445.06,228.85 L445.50,229.46 L445.95,230.03 L446.40,230.58 L446.97,231.29 L447.50,232 L447.94,232.59 L448.48,233.28 L448.99,233.94 L449.49,234.73 L449.87,235.47 L450.16,236.12 L450.47,236.93 L450.70,237.61 L450.94,238.32 L451.17,239.06 L451.41,239.82 L451.64,240.58 L451.88,241.34 L452.11,242.08 L452.34,242.79 L452.59,243.50 L452.84,244.24 L453.10,244.99 L453.36,245.74 L453.62,246.48 L453.88,247.20 L454.14,247.91 L454.40,248.58 L454.74,249.42 L455.13,250.28 L455.50,251.05 L455.87,251.75 L456.23,252.38 L456.75,253.14 L457.34,253.83 L457.86,254.32 L458.45,254.72 L459.08,255.07 L459.73,255.38 L460.39,255.72 L461.04,256.10 L461.63,256.53 L462.19,256.98 L462.75,257.45 L463.31,257.95 L463.87,258.46 L464.44,258.98 L465,259.50 L465.52,260 L466.04,260.54 L466.56,261.10 L467.08,261.65 L467.59,262.19 L468.10,262.68 L468.75,263.25 L469.44,263.73 L470.12,264.11 L470.78,264.41 L471.61,264.79 L472.23,265.12 L472.89,265.42 L473.69,265.81 L474.29,266.28 L474.87,266.96 L475.36,267.68 L475.72,268.30 L476.09,268.97 L476.47,269.70 L476.86,270.48 L477.19,271.13 L477.58,271.97 L477.88,272.65 L478.19,273.35 L478.50,274.08 L478.81,274.81 L479.12,275.52 L479.42,276.22 L479.72,276.88 L480.12,277.76 L480.46,278.52 L480.80,279.26 L481.12,279.98 L481.44,280.66 L481.76,281.29 L482.18,282.03 L482.71,282.75 L483.33,283.27 L484.17,283.65 L485,284 L485.83,284.28 L486.67,284.53 L487.29,285 L487.80,285.70 L488.19,286.44 L488.57,287.30 L488.87,288 L489.16,288.73 L489.47,289.49 L489.78,290.25 L490.09,290.95 L490.45,291.81 L490.73,292.49 L491.02,293.18 L491.31,293.89 L491.60,294.61 L491.90,295.32 L492.20,296.01 L492.50,296.69 L492.80,297.34 L493.12,297.99 L493.49,298.69 L493.88,299.37 L494.27,300.03 L494.66,300.67 L495.04,301.29 L495.42,301.90 L495.91,302.68 L496.39,303.49 L496.81,304.22 L497.20,304.92 L497.58,305.59 L497.94,306.23 L498.41,307 L498.93,307.75 L499.46,308.43 L499.96,308.96 L500.59,309.43 L501.39,309.58 L502.25,309.18 L502.95,308.61 L503.45,308.10 L503.96,307.52 L504.49,306.97 L505.20,306.34 L505.79,305.94 L506.57,305.48 L507.25,305.13 L507.89,304.82 L508.55,304.56 L509.26,304.31 L509.97,304.03 L510.65,303.68 L511.25,303.25 L511.86,302.60 L512.39,301.85 L512.76,301.23 L513.12,300.59 L513.49,299.94 L513.87,299.30 L514.23,298.67 L514.58,298 L514.94,297.32 L515.30,296.64 L515.65,295.98 L516.01,295.37 L516.41,294.76 L516.88,294.04 L517.34,293.35 L517.81,292.75 L518.44,292.16 L519.16,291.98 L519.97,292.44 L520.59,292.93 L521.25,293.25 L522.15,293.38 L522.87,293.41 L523.58,293.36 L524.48,293.19 L525.14,292.92 L525.77,292.57 L526.56,292.10 L527.23,291.71 L527.89,291.26 L528.75,291 L529.46,291.32 L530.17,291.95 L530.75,292.50 L531.37,293.16 L531.85,293.75 L532.36,294.31 L532.89,294.78 L533.69,295.11 L534.39,295.07 L535.11,294.93 L535.81,294.89 L536.61,295.18 L537.29,295.63 L537.94,296.28 L538.42,296.95 L538.84,297.66 L539.20,298.40 L539.55,299.24 L539.82,299.93 L540.09,300.65 L540.36,301.40 L540.62,302.18 L540.89,302.96 L541.16,303.74 L541.40,304.43 L541.69,305.31 L541.91,305.99 L542.13,306.68 L542.35,307.39 L542.57,308.10 L542.79,308.82 L543.01,309.55 L543.24,310.28 L543.46,311.02 L543.68,311.75 L543.89,312.45 L544.09,313.14 L544.29,313.84 L544.49,314.55 L544.70,315.26 L544.90,315.97 L545.10,316.69 L545.30,317.41 L545.51,318.13 L545.71,318.84 L545.91,319.56 L546.11,320.28 L546.32,320.99 L546.52,321.71 L546.72,322.43 L546.93,323.17 L547.13,323.90 L547.33,324.64 L547.53,325.37 L547.74,326.10 L547.94,326.81 L548.14,327.51 L548.34,328.19 L548.55,328.86 L548.84,329.77 L549.09,330.57 L549.35,331.37 L549.61,332.16 L549.87,332.93 L550.13,333.66 L550.39,334.35 L550.73,335.20 L551.08,335.93 L551.44,336.56 L552.02,337.26 L552.60,337.68 L553.37,338.06 L554.20,338.45 L555.08,338.66 L555.77,338.82 L556.46,339.10 L557.16,339.48 L557.91,339.92 L558.60,340.35 L559.25,340.75" stroke="rgba(76,114,176,0.75)" stroke-width="2.08" stroke-linecap="square"/>
</g>
<g clip-path="url(#c2)" fill="none" stroke-linejoin="round">
<path d="M117.50,403.70 L117.90,396.80" stroke="rgba(0,0,0,0.5)" stroke-width="2.08"/>
<path d="M118.50,392.70 L118.90,385.70" stroke="rgba(0,0,0,0.5)" stroke-width="2.08"/>
<path d="M119.10,389.50 L119.90,397.00" stroke="rgba(0,0,0,0.5)" stroke-width="2.08"/>
<path d="M120.00,400.70 L120.40,408.60" stroke="rgba(0,0,0,0.5)" stroke-width="2.08"/>
<path d="M120.50,407.20 L121.80,399.60" stroke="rgba(0,0,0,0.5)" stroke-width="2.08"/>
<path d="M122.10,396.00 L122.70,388.30" stroke="rgba(0,0,0,0.5)" stroke-width="2.08"/>
<path d="M122.90,385.20 L123.10,384.20 L123.80,391.00" stroke="rgba(0,0,0,0.5)" stroke-width="2.08"/>
<path d="M124.10,394.50 L124.90,402.00" stroke="rgba(0,0,0,0.5)" stroke-width="2.08"/>
<path d="M125.30,405.50 L126.00,410.50 L126.20,409.50" stroke="rgba(0,0,0,0.5)" stroke-width="2.08"/>
<path d="M126.40,403.60 L126.80,396.20" stroke="rgba(0,0,0,0.5)" stroke-width="2.08"/>
<path d="M127.00,392.40 L127.40,385.10" stroke="rgba(0,0,0,0.5)" stroke-width="2.08"/>
<path d="M128.50,385.10 L129.00,392.60" stroke="rgba(0,0,0,0.5)" stroke-width="2.08"/>
<path d="M129.20,396.40 L129.80,401.00 L132.20,400.00" stroke="rgba(0,0,0,0.5)" stroke-width="2.08"/>
<path d="M135.30,400.80 L138.30,398.80 L141.60,399.30" stroke="rgba(0,0,0,0.5)" stroke-width="2.08"/>
<path d="M144.10,401.40 L147.40,401.90 L150.40,403.00" stroke="rgba(0,0,0,0.5)" stroke-width="2.08"/>
<path d="M153.70,405.60 L155.90,403.00 L158.40,402.60" stroke="rgba(0,0,0,0.5)" stroke-width="2.08"/>
<path d="M160.30,406.30 L162.30,413.30" stroke="rgba(0,0,0,0.5)" stroke-width="2.08"/>
<path d="M164.30,415.90 L165.12,415.90 L165.91,415.90 L166.78,415.90 L167.54,415.90 L168.35,415.90 L169.21,415.90 L170.10,415.90 L170.80,415.90 L171.52,415.90 L172.27,415.90 L173.03,415.90 L173.80,415.90 L174.60,415.90 L175.40,415.90 L176.22,415.90 L177.06,415.90 L177.90,415.90 L178.76,415.90 L179.62,415.90 L180.49,415.90 L181.36,415.90 L182.24,415.90 L183.12,415.90 L184,415.90 L184.89,415.90 L185.77,415.90 L186.65,415.90 L187.53,415.90 L188.40,415.90 L189.26,415.90 L190.12,415.90 L190.97,415.90 L191.81,415.90 L192.64,415.90 L193.45,415.90 L194.25,415.90 L195.04,415.90 L195.81,415.90 L196.56,415.90 L197.29,415.90 L198,415.90 L198.92,415.90 L199.79,415.90 L200.61,415.90 L201.53,415.90 L202.45,415.90 L203.37,415.90 L204.28,415.90 L205.19,415.90 L206.10,415.90 L207,415.90 L207.89,415.90 L208.78,415.90 L209.65,415.90 L210.52,415.90 L211.37,415.90 L212.21,415.90 L213.04,415.90 L213.85,415.90 L214.64,415.90 L215.42,415.90 L216.18,415.90 L216.93,415.90 L217.65,415.90 L218.57,415.90 L219.46,415.90" stroke="rgba(0,0,0,0.5)" stroke-width="2.08" stroke-dasharray="7.70 3.33"/>
<path d="M219.46,415.90 L220.30,415.90 L221.10,415.90 L221.85,415.90 L222.71,415.90 L223.49,415.90 L224.30,415.90 L225.98,415.94 L224.79,416.03 L224.76,415.27 L225.22,414.57 L225.57,413.82 L225.85,413.04 L226.11,412.16 L226.30,411.39 L226.50,410.50" stroke="rgba(0,0,0,0.5)" stroke-width="2.08" stroke-dasharray="9.49 4.10"/>
<path d="M226.50,410.50 L226.67,409.66 L226.80,408.94 L226.93,408.18 L227.06,407.40 L227.18,406.62 L227.30,405.86 L227.41,405.14 L227.54,404.21 L227.62,403.43 L227.67,402.73 L227.73,401.85 L227.82,400.97 L227.94,400.27" stroke="rgba(0,0,0,0.5)" stroke-width="2.08" stroke-dasharray="7.22 3.12"/>
<path d="M227.94,400.27 L228.07,399.52 L228.21,398.74 L228.38,397.96 L228.57,397.23 L228.90,396.38 L229.31,395.77 L229.89,395.27 L230.52,394.88 L231.13,394.54 L231.72,394.15 L232.36,393.79 L233.10,393.33 L233.62,392.62 L233.86,391.94 L234.04,391.21 L234.20,390.50 L234.31,389.78 L234.37,389.05 L234.53,388.18 L234.88,387.51 L235.44,386.89 L236.19,387.05 L236.46,387.75 L236.73,388.61 L237.01,389.38 L237.75,389.49 L238.23,388.67 L238.95,388.35 L239.64,388.86 L240.20,389.45 L240.74,390.13 L241.20,390.80 L241.52,391.42 L241.78,392.09 L242,392.80 L242.23,393.54 L242.50,394.30" stroke="rgba(0,0,0,0.5)" stroke-width="2.08" stroke-dasharray="6.78 2.93"/>
<path d="M242.50,394.30 L242.83,395.18 L243.10,395.90 L243.38,396.63 L243.66,397.33 L244.02,398.16 L244.52,398.99 L245.12,399.61 L245.80,400.20 L246.44,400.91 L246.96,401.50 L247.49,402.01" stroke="rgba(0,0,0,0.5)" stroke-width="2.08" stroke-dasharray="6.54 2.82"/>
<path d="M247.49,402.01 L248.23,402.34 L248.92,402.17 L249.58,401.77 L250.21,401.41 L251.02,401.18 L251.55,400.58 L251.79,399.87 L251.93,399.06 L252.02,398.33 L252.10,397.54 L252.17,396.71 L252.24,395.87 L252.31,395.03" stroke="rgba(0,0,0,0.5)" stroke-width="2.08" stroke-dasharray="7.18 3.10"/>
<path d="M252.31,395.03 L252.40,394.23 L252.50,393.50 L252.63,392.72 L252.78,391.93 L252.93,391.15 L253.09,390.39 L253.25,389.66 L253.40,388.96 L253.61,388.10 L253.77,387.39 L253.98,386.44 L254.17,385.56 L254.37,384.84 L255.06,385.21 L255.27,386.22 L255.50,387.16 L256.20,386.77 L256.41,385.92 L256.61,385 L256.81,384.14 L257.14,383.12 L257.40,382.38 L257.77,381.70 L258.16,382.38 L258.27,383.09 L258.37,383.94 L258.48,384.84 L258.59,385.69 L258.71,386.42 L258.91,387.12 L259.41,387.70 L260,388.50" stroke="rgba(0,0,0,0.5)" stroke-width="2.08" stroke-dasharray="9.31 4.02"/>
<path d="M260,388.50 L260.28,389.27 L260.51,389.99 L260.74,390.79 L260.99,391.59 L261.23,392.35 L261.55,393.19 L262.10,393.93 L262.90,394.02 L263.51,394.63 L263.81,395.31 L264.12,396.11 L264.44,396.87 L264.89,397.60 L265.64,397.69 L266.31,397.19 L267,396.80 L267.74,396.83 L268.50,396.95 L269.20,396.80 L269.65,396.23 L270.06,395.39 L270.44,394.63 L271.13,394.46 L271.51,395.15 L271.80,396.04 L272,396.80 L272.16,397.53" stroke="rgba(0,0,0,0.5)" stroke-width="2.08" stroke-dasharray="7.65 3.30"/>
<path d="M272.16,397.53 L272.33,398.42 L272.45,399.16 L272.57,399.94 L272.70,400.74 L272.83,401.55 L272.95,402.35 L273.08,403.13 L273.21,403.85 L273.35,404.57 L273.52,405.36 L273.69,406.14 L273.86,406.90 L274.03,407.63" stroke="rgba(0,0,0,0.5)" stroke-width="2.08" stroke-dasharray="7.18 3.10"/>
<path d="M274.03,407.63 L274.20,408.33 L274.42,409.21 L274.65,410.01 L274.88,410.84 L275.13,411.82 L275.39,412.70 L275.73,413.44 L276.31,412.91 L276.57,412.03 L276.77,411.22 L276.97,410.33 L277.17,409.42 L277.37,408.54 L277.56,407.77" stroke="rgba(0,0,0,0.5)" stroke-width="2.08" stroke-dasharray="8.48 3.66"/>
<path d="M277.56,407.77 L277.72,407.07 L277.88,406.33 L278.04,405.57 L278.20,404.80 L278.37,404.03 L278.53,403.29 L278.70,402.58 L278.94,401.70 L279.18,400.90 L279.45,399.91 L279.74,398.93 L280.03,398.08 L280.42,397.33 L281.01,397.79 L281.22,398.71 L281.38,399.59 L281.53,400.58 L281.69,401.61 L281.84,402.62 L282,403.57 L282.16,404.39 L282.38,405.18 L283.05,404.84 L283.33,403.95 L283.54,403.12 L283.75,402.20 L283.95,401.25 L284.14,400.30 L284.31,399.41 L284.47,398.63 L284.67,397.68 L284.82,396.87 L284.94,396.03 L285.01,395.25 L285.08,394.29" stroke="rgba(0,0,0,0.5)" stroke-width="2.08" stroke-dasharray="7.13 3.08"/>
<path d="M285.08,394.29 L285.13,393.58 L285.17,392.87 L285.21,392.07 L285.24,391.24 L285.27,390.39 L285.31,389.57 L285.36,388.82 L285.43,387.97 L285.66,386.97 L286.50,387 L286.79,387.65 L287.08,388.62 L287.50,389.20 L287.90,388.32 L288.16,387.42 L288.42,386.51 L288.66,385.78 L289.37,385.92 L289.67,386.66 L289.92,387.50 L290.20,388.50 L290.42,389.28 L290.61,390.02 L290.83,390.85 L291.06,391.71 L291.30,392.54 L291.53,393.30 L291.81,394.11 L292.34,394.70 L292.77,394.04 L293.20,393.20 L293.73,392.50 L294.16,391.93 L294.63,391.33 L295.09,390.71 L295.60,390.04 L296.09,389.48 L296.83,389.36 L297.21,390.13 L297.60,390.80 L298.27,390.61 L299,391 L299.23,391.73 L299.41,392.53 L299.59,393.44 L299.77,394.40 L299.95,395.33 L300.13,396.17 L300.35,396.99 L300.87,396.40 L301.02,395.37 L301.13,394.67 L301.33,393.81 L301.89,393.32 L302.59,393.52 L303.29,394.19 L303.66,394.83 L303.97,395.69 L304.19,396.46 L304.40,397.28 L304.61,398.09 L304.81,398.85 L305.10,399.78 L305.38,400.56 L305.64,401.24 L305.97,402.05" stroke="rgba(0,0,0,0.5)" stroke-width="2.08" stroke-dasharray="6.40 2.77"/>
<path d="M305.97,402.05 L306.30,402.85 L306.63,403.52 L307,404.50 L307.23,405.20 L307.48,406 L307.68,406.68 L307.89,407.45 L308.09,408.31 L308.30,409.30 L308.44,410.08 L308.59,410.95 L308.71,411.64 L308.82,412.37 L308.94,413.12 L309.05,413.88" stroke="rgba(0,0,0,0.5)" stroke-width="2.08" stroke-dasharray="8.57 3.70"/>
<path d="M309.05,413.88 L309.16,414.66 L309.28,415.44 L309.39,416.23 L309.49,417 L309.60,417.76 L309.70,418.50 L309.80,419.22 L309.89,419.94 L309.98,420.66 L310.07,421.38 L310.15,422.09 L310.23,422.81 L310.32,423.53 L310.40,424.25 L310.48,424.98" stroke="rgba(0,0,0,0.5)" stroke-width="2.08" stroke-dasharray="7.82 3.38"/>
<path d="M310.48,424.98 L310.57,425.71 L310.65,426.45 L310.74,427.20 L310.83,427.93 L310.91,428.65 L311,429.37 L311.08,430.10 L311.17,430.84 L311.26,431.58 L311.34,432.32 L311.43,433.07 L311.52,433.81 L311.61,434.55 L311.70,435.29 L311.79,436.02" stroke="rgba(0,0,0,0.5)" stroke-width="2.08" stroke-dasharray="7.76 3.35"/>
<path d="M311.79,436.02 L311.88,436.75 L311.97,437.46 L312.07,438.21 L312.17,438.98 L312.27,439.76 L312.38,440.53 L312.49,441.31 L312.60,442.07 L312.70,442.83 L312.81,443.58 L312.92,444.31 L313.02,445.02 L313.15,445.93 L313.27,446.79" stroke="rgba(0,0,0,0.5)" stroke-width="2.08" stroke-dasharray="7.59 3.28"/>
<path d="M313.27,446.79 L313.38,447.61 L313.49,448.53 L313.58,449.45 L313.67,450.33 L313.76,451.15 L313.85,451.89 L313.99,452.69 L314.31,453.38 L314.84,452.54 L315.13,451.81 L315.41,451.16 L316.16,451.39 L316.42,452.27 L316.61,453.11 L316.80,454.03 L317,455" stroke="rgba(0,0,0,0.5)" stroke-width="2.08" stroke-dasharray="9.56 4.13"/>
<path d="M317,455 L317.16,455.82 L317.32,456.74 L317.44,457.49 L317.56,458.26 L317.68,459.04 L317.81,459.83 L317.93,460.60 L318.07,461.35 L318.20,462.06 L318.36,462.76 L318.55,463.52 L318.75,464.24 L318.95,464.94 L319.16,465.61" stroke="rgba(0,0,0,0.5)" stroke-width="2.08" stroke-dasharray="7.57 3.27"/>
<path d="M319.16,465.61 L319.44,466.50 L319.72,467.38 L319.93,468.07 L320.14,468.78 L320.35,469.54 L320.58,470.33 L320.80,471.12 L321.01,471.90 L321.22,472.63 L321.48,473.50 L321.70,474.20 L321.94,475.09 L322.10,475.78 L322.69,475.26 L322.90,474.40 L323.07,473.63 L323.24,472.78 L323.43,471.91 L323.63,471.06 L323.84,470.26 L324.05,469.58 L324.34,468.91" stroke="rgba(0,0,0,0.5)" stroke-width="2.08" stroke-dasharray="6.27 2.71"/>
<path d="M324.34,468.91 L324.79,468.16 L325.29,467.55 L325.79,467.05 L326.43,466.52 L326.97,466.06 L327.65,465.56 L328.39,465.91 L328.83,466.69 L329.19,467.57 L329.46,468.33 L329.73,469.15 L330,470" stroke="rgba(0,0,0,0.5)" stroke-width="2.08" stroke-dasharray="6.97 3.01"/>
<path d="M330,470 L330.24,470.84 L330.43,471.54 L330.61,472.28 L330.80,473.04 L330.98,473.82 L331.16,474.58 L331.34,475.33 L331.52,476.04 L331.78,476.98 L332.02,477.80 L332.26,478.59 L332.49,479.34 L332.72,480.05" stroke="rgba(0,0,0,0.5)" stroke-width="2.08" stroke-dasharray="7.27 3.14"/>
<path d="M332.72,480.05 L332.95,480.72 L333.23,481.52 L333.52,482.34 L333.82,483.26 L334.11,483.96 L334.86,483.63 L335.15,482.77 L335.37,481.95 L335.59,481.01 L335.80,480 L335.95,479.22 L336.09,478.37 L336.23,477.44 L336.33,476.71" stroke="rgba(0,0,0,0.5)" stroke-width="2.08" stroke-dasharray="8.42 3.64"/>
<path d="M336.33,476.71 L336.43,475.96 L336.54,475.18 L336.64,474.39 L336.75,473.59 L336.85,472.78 L336.96,471.97 L337.06,471.25 L337.18,470.33 L337.28,469.62 L337.37,468.90 L337.46,468.17 L337.56,467.43 L337.65,466.68 L337.75,465.93" stroke="rgba(0,0,0,0.5)" stroke-width="2.08" stroke-dasharray="7.59 3.28"/>
<path d="M337.75,465.93 L337.84,465.18 L337.94,464.43 L338.04,463.68 L338.14,462.93 L338.23,462.19 L338.33,461.45 L338.43,460.71 L338.54,459.94 L338.64,459.16 L338.74,458.38 L338.85,457.60 L338.95,456.82 L339.06,456.05 L339.16,455.29" stroke="rgba(0,0,0,0.5)" stroke-width="2.08" stroke-dasharray="7.50 3.24"/>
<path d="M339.16,455.29 L339.27,454.55 L339.37,453.84 L339.50,452.93 L339.64,452.09 L339.75,451.37 L339.92,450.42 L340.07,449.51 L340.23,448.66 L340.38,447.88 L340.58,447.01 L340.81,446.21 L341.57,446.80 L341.80,447.50" stroke="rgba(0,0,0,0.5)" stroke-width="2.08" stroke-dasharray="7.64 3.30"/>
<path d="M341.80,447.50 L341.99,448.22 L342.15,449.05 L342.40,449.80 L343.12,449.20 L343.69,449.88 L343.99,450.67 L344.29,451.39 L344.67,452.07 L344.95,452.72 L345.20,453.75" stroke="rgba(0,0,0,0.5)" stroke-width="2.08" stroke-dasharray="5.85 2.53"/>
<path d="M345.20,453.75 L345.30,454.52 L345.38,455.45 L345.43,456.22 L345.48,457.03 L345.53,457.86 L345.58,458.67 L345.64,459.45 L345.71,460.17 L345.85,461.11 L346.02,461.96 L346.20,462.72 L346.40,463.41 L346.69,464.24" stroke="rgba(0,0,0,0.5)" stroke-width="2.08" stroke-dasharray="7.43 3.21"/>
<path d="M346.69,464.24 L347,465 L347.37,465.63 L347.93,466.22 L348.47,466.95 L348.75,467.68 L348.95,468.49 L349.08,469.19 L349.20,469.93 L349.31,470.71 L349.42,471.50 L349.54,472.29 L349.66,473.05" stroke="rgba(0,0,0,0.5)" stroke-width="2.08" stroke-dasharray="6.64 2.87"/>
<path d="M349.66,473.05 L349.78,473.78 L349.91,474.53 L350.04,475.31 L350.18,476.08 L350.31,476.85 L350.44,477.57 L350.62,478.46 L350.80,479.20 L351.11,480.05 L351.54,480.71 L351.90,481.50 L352.05,482.21 L352.17,483.07 L352.27,483.93 L352.38,484.69" stroke="rgba(0,0,0,0.5)" stroke-width="2.08" stroke-dasharray="8.41 3.63"/>
<path d="M352.38,484.69 L352.65,485.52 L353.30,485 L353.68,484.35 L354.03,483.67 L354.42,482.90 L354.81,482.13 L355.18,481.45 L355.60,480.80 L356.32,480.52 L357.06,480.52 L357.84,480.01 L358.10,479.20" stroke="rgba(0,0,0,0.5)" stroke-width="2.08" stroke-dasharray="6.84 2.95"/>
<path d="M358.10,479.20 L358.24,478.33 L358.33,477.44 L358.40,476.70 L358.46,475.92 L358.52,475.10 L358.58,474.28 L358.64,473.46 L358.70,472.67 L358.77,471.93 L358.86,471.19 L358.94,470.40 L359.02,469.60 L359.11,468.81" stroke="rgba(0,0,0,0.5)" stroke-width="2.08" stroke-dasharray="7.29 3.15"/>
<path d="M359.11,468.81 L359.19,468.04 L359.29,467.29 L359.39,466.58 L359.53,465.73 L359.70,465 L359.92,464.32 L360.30,463.57 L360.86,462.91 L361.50,462.34 L362.35,462.02 L363.05,461.82" stroke="rgba(0,0,0,0.5)" stroke-width="2.08" stroke-dasharray="6.13 2.65"/>
<path d="M363.05,461.82 L363.84,461.35 L364.42,460.92 L365.01,460.49 L365.61,460.10 L366.27,459.78 L366.98,459.50 L367.68,459.30 L368.55,459.19 L369.40,459.35 L370.15,459.83 L370.78,460.55 L371.24,461.16 L371.70,461.70 L372.21,462.25 L372.89,462.85 L373.71,462.98 L374.42,462.73 L375.15,462.47 L375.96,462.58 L376.53,463.05 L377.04,463.82 L377.39,464.66 L377.60,465.35 L377.79,466.14 L377.96,467.05" stroke="rgba(0,0,0,0.5)" stroke-width="2.08" stroke-dasharray="7.07 3.05"/>
<path d="M377.96,467.05 L378.08,467.78 L378.20,468.55 L378.32,469.34 L378.45,470.14 L378.57,470.93 L378.70,471.70 L378.82,472.41 L378.95,473.16 L379.07,473.94 L379.20,474.74 L379.33,475.53 L379.46,476.31 L379.58,477.06" stroke="rgba(0,0,0,0.5)" stroke-width="2.08" stroke-dasharray="7.08 3.06"/>
<path d="M379.58,477.06 L379.71,477.77 L379.88,478.64 L380.08,479.56 L380.24,480.26 L380.48,481.22 L380.72,481.98 L381.20,482.50 L381.55,481.68 L381.73,480.94 L381.91,480.08 L382.10,479.17 L382.29,478.29 L382.50,477.50 L382.71,476.76 L382.94,475.96 L383.17,475.12 L383.41,474.32 L383.65,473.60 L383.97,472.84 L384.68,472.76" stroke="rgba(0,0,0,0.5)" stroke-width="2.08" stroke-dasharray="11.56 4.99"/>
<path d="M384.68,472.76 L385,473.41 L385.32,474.04 L386,473.87 L386.28,473.22 L386.57,472.35 L386.78,471.59 L386.99,470.76 L387.19,469.86 L387.38,468.93 L387.54,468.10 L387.67,467.27 L387.80,466.38 L387.89,465.67" stroke="rgba(0,0,0,0.5)" stroke-width="2.08" stroke-dasharray="7.38 3.19"/>
<path d="M387.89,465.67 L387.98,464.94 L388.07,464.19 L388.16,463.43 L388.24,462.65 L388.32,461.87 L388.41,461.09 L388.49,460.31 L388.57,459.55 L388.65,458.79 L388.73,458.06 L388.81,457.32 L388.88,456.59 L388.96,455.86 L389.03,455.13 L389.10,454.40" stroke="rgba(0,0,0,0.5)" stroke-width="2.08" stroke-dasharray="7.92 3.42"/>
<path d="M389.10,454.40 L389.17,453.67 L389.24,452.93 L389.31,452.20 L389.38,451.47 L389.45,450.74 L389.53,450.01 L389.60,449.28 L389.67,448.54 L389.75,447.81 L389.83,447.05 L389.90,446.28 L389.97,445.51 L390.05,444.72 L390.12,443.94" stroke="rgba(0,0,0,0.5)" stroke-width="2.08" stroke-dasharray="7.34 3.17"/>
<path d="M390.12,443.94 L390.19,443.17 L390.27,442.40 L390.35,441.65 L390.43,440.92 L390.52,440.21 L390.64,439.32 L390.77,438.50 L390.91,437.69 L391.09,436.83 L391.27,436.04 L391.46,435.31 L391.66,434.63 L391.95,433.80 L392.26,433.04" stroke="rgba(0,0,0,0.5)" stroke-width="2.08" stroke-dasharray="7.79 3.36"/>
<path d="M392.26,433.04 L392.63,432.23 L393.07,431.45 L393.54,430.75 L394.03,430.17 L394.68,429.64 L395.42,429.47 L396.29,429.86 L396.92,430.39 L397.50,431 L397.90,431.59 L398.27,432.35 L398.62,433.15 L398.96,433.83 L399.54,434.31 L400.09,433.82 L400.48,433.10 L400.87,432.27 L401.18,431.57 L401.44,430.73 L401.69,429.77 L401.96,428.89 L402.22,428.23 L402.93,428.57 L403.21,429.44 L403.42,430.25 L403.64,431.13 L403.86,432.03 L404.07,432.89 L404.29,433.67 L404.62,434.59 L404.98,435.34 L405.35,435.96 L405.83,436.71 L406.18,437.32 L406.49,438 L406.82,438.75 L407.14,439.51 L407.45,440.38 L407.68,441.17 L407.92,442.13" stroke="rgba(0,0,0,0.5)" stroke-width="2.08" stroke-dasharray="7.82 3.38"/>
<path d="M407.92,442.13 L408.07,442.87 L408.22,443.73 L408.34,444.45 L408.45,445.22 L408.57,446.03 L408.68,446.87 L408.79,447.71 L408.91,448.56 L409.02,449.39 L409.13,450.19 L409.24,450.95 L409.35,451.65 L409.49,452.48 L409.71,453.45 L409.93,454.18 L410.26,454.94 L410.67,455.54 L411.16,456.15 L411.58,456.77 L411.80,457.58 L412.01,458.37 L412.24,459.28 L412.42,460.04 L412.61,460.88 L412.79,461.80 L412.98,462.79 L413.10,463.50 L413.22,464.29 L413.35,465.18 L413.44,465.90 L413.54,466.66 L413.63,467.45 L413.73,468.27 L413.83,469.10 L413.92,469.94 L414.02,470.78 L414.12,471.62 L414.22,472.45 L414.33,473.26 L414.43,474.05 L414.53,474.80 L414.64,475.51 L414.78,476.38 L414.93,477.16 L415.10,477.92 L415.31,478.65 L415.63,479.49 L416.06,480.28 L416.51,480.90 L416.96,481.55 L417.30,482.20 L417.66,483.02 L417.94,483.66 L418.22,484.32 L418.50,484.99 L418.78,485.67 L419.06,486.36 L419.34,487.06 L419.61,487.76 L419.87,488.45 L420.12,489.15 L420.38,489.88 L420.63,490.62 L420.88,491.36 L421.13,492.09 L421.37,492.80 L421.61,493.48 L421.92,494.31 L422.23,495.12 L422.45,495.79 L422.66,496.47 L422.96,497.42 L423.27,498.16 L423.90,498.50 L424.20,497.82 L424.39,497.11 L424.58,496.25 L424.77,495.29 L424.96,494.28 L425.15,493.28 L425.34,492.34 L425.52,491.52 L425.77,490.69 L426.51,490.97 L426.71,491.71 L426.92,492.61 L427.12,493.59 L427.33,494.57 L427.56,495.46 L427.80,496.20 L428.11,496.92 L428.44,497.61 L428.79,498.26 L429.15,498.89 L429.50,499.52 L429.86,500.15 L430.20,500.80 L430.54,501.45 L430.88,502.07 L431.23,502.69 L431.57,503.32 L431.90,503.99 L432.21,504.71 L432.50,505.50 L432.76,506.39 L432.94,507.13 L433.11,507.93 L433.28,508.74 L433.44,509.56 L433.59,510.34 L433.74,511.09 L433.95,511.96 L434.23,512.92 L434.49,513.72 L434.73,514.39 L435.23,515.01 L435.72,514.34 L435.95,513.64 L436.19,512.74 L436.37,511.97 L436.55,511.13 L436.73,510.24 L436.91,509.33 L437.09,508.41 L437.24,507.59 L437.39,506.74 L437.54,505.85 L437.65,505.15 L437.75,504.44 L437.86,503.71 L437.97,502.96 L438.08,502.21 L438.19,501.44 L438.30,500.67 L438.41,499.89 L438.52,499.11 L438.64,498.33 L438.76,497.56 L438.87,496.83 L438.99,496.12 L439.10,495.39 L439.22,494.65 L439.34,493.89 L439.45,493.14 L439.58,492.37 L439.70,491.61 L439.82,490.85 L439.94,490.10 L440.06,489.36 L440.18,488.63 L440.31,487.91 L440.47,486.99 L440.62,486.12 L440.75,485.41 L440.91,484.56 L441.07,483.75 L441.22,482.97 L441.37,482.21 L441.52,481.48 L441.67,480.77 L441.82,480.08 L442.04,479.19 L442.26,478.33 L442.50,477.50 L442.75,476.72 L443.01,475.99 L443.29,475.30 L443.57,474.64 L443.86,474 L444.25,473.17 L444.62,472.34 L445,471.46 L445.29,470.71 L445.58,469.91 L445.87,469.11 L446.15,468.34 L446.44,467.63 L446.82,466.84 L447.43,466.12 L448.34,466.24 L449.03,466.73 L449.72,467.08 L450.40,467.26 L451.08,467.49 L451.71,467.96 L452.18,468.70 L452.52,469.55 L452.75,470.28 L452.97,471.05 L453.19,471.82 L453.42,472.56 L453.66,473.27 L453.88,474 L454.10,474.73 L454.33,475.46 L454.56,476.18 L454.82,476.86 L455.22,477.74 L455.61,478.43 L456.04,479.09 L456.48,479.70 L456.93,480.28 L457.50,481 L458,481.58 L458.49,482.09 L459.15,482.71 L459.80,483.30 L460.37,483.86 L460.94,484.44 L461.52,484.92 L462.34,485.24 L463.07,485.11 L463.81,484.80 L464.50,484.50 L465.23,484.36 L465.92,484.22 L466.50,483.75 L466.85,482.97 L467.05,482.15 L467.20,481.36 L467.41,480.38 L467.59,479.63 L467.77,478.79 L467.92,478.08 L468.07,477.31 L468.24,476.52 L468.41,475.70 L468.58,474.88 L468.76,474.07 L468.94,473.29 L469.13,472.55 L469.31,471.86 L469.60,470.96 L469.91,470.24 L470.36,469.48 L470.82,468.82 L471.28,468.11 L471.60,467.44 L471.91,466.59 L472.09,465.89 L472.27,465.10 L472.43,464.24 L472.59,463.33 L472.70,462.61 L472.81,461.86 L472.92,461.09 L473.03,460.31 L473.14,459.52 L473.24,458.72 L473.35,457.91 L473.46,457.11 L473.56,456.31 L473.67,455.52 L473.78,454.77 L473.89,454.04 L473.99,453.29 L474.10,452.52 L474.20,451.73 L474.31,450.93 L474.41,450.13 L474.52,449.32 L474.62,448.52 L474.73,447.73 L474.83,446.95 L474.94,446.19 L475.04,445.46 L475.14,444.75 L475.27,443.87 L475.40,443.05 L475.57,442.12 L475.70,441.42 L475.88,440.52 L476.06,439.76 L476.29,438.90 L476.54,438.13 L476.83,437.39 L477.22,436.52 L477.59,435.84 L477.98,435.21 L478.40,434.62 L478.96,433.89 L479.50,433.25 L480.09,432.70 L480.70,432.31 L481.47,431.80 L482,431.25 L482.36,430.60 L482.69,429.75 L483,428.87 L483.29,428.11 L483.75,427.50 L484.23,428.25 L484.45,429.03 L484.66,429.96 L484.91,430.93 L485.12,431.68 L485.30,432.46 L485.49,433.36 L485.69,434.30 L485.90,435.22 L486.11,436.07 L486.32,436.77 L486.68,437.46 L487.28,436.93 L487.56,436.23 L487.84,435.37 L488.12,434.44 L488.40,433.53 L488.66,432.73 L488.93,432.03 L489.19,431.35 L489.43,430.69 L489.68,430.03 L489.93,429.37 L490.20,428.70 L490.50,428 L490.90,427.21 L491.33,426.47 L491.79,425.70 L492.14,425.07 L492.48,424.38 L492.80,423.59 L493.06,422.81 L493.29,421.97 L493.46,421.29 L493.62,420.56 L493.78,419.80 L493.94,419.01 L494.10,418.22 L494.25,417.42 L494.40,416.63 L494.55,415.86 L494.70,415.12 L494.85,414.41 L495.07,413.46 L495.26,412.59 L495.45,411.72 L495.63,410.86 L495.81,410.03 L496,409.25 L496.18,408.55 L496.43,407.74 L496.75,407 L497.66,407.10 L498.35,407.70 L498.93,407.07 L499.14,406.25 L499.29,405.50 L499.42,404.67 L499.55,403.82 L499.68,402.97 L499.82,402.17 L499.95,401.46 L500.14,400.64 L500.33,399.65 L500.53,398.69 L500.73,397.85 L501.01,397.12 L501.65,397.61 L501.93,398.44 L502.15,399.21 L502.38,400.06 L502.61,400.97 L502.84,401.90 L503.05,402.70 L503.27,403.53 L503.49,404.40 L503.66,405.08 L503.83,405.79 L504,406.52 L504.17,407.26 L504.34,408.03 L504.51,408.81 L504.68,409.61 L504.84,410.42 L505,411.25 L505.16,412.12 L505.32,413 L505.47,413.88 L505.62,414.78 L505.76,415.70 L505.88,416.41 L505.99,417.13 L506.10,417.87 L506.21,418.63 L506.32,419.41 L506.43,420.22 L506.55,421.05 L506.67,421.91 L506.78,422.71 L506.89,423.58 L507.01,424.49 L507.09,425.20 L507.18,425.93 L507.26,426.67 L507.35,427.43 L507.44,428.20 L507.53,428.98 L507.61,429.76 L507.70,430.55 L507.79,431.34 L507.88,432.12 L507.98,432.91 L508.07,433.68 L508.16,434.45 L508.26,435.21 L508.35,435.96 L508.45,436.68 L508.55,437.39 L508.65,438.08 L508.79,439.03 L508.93,439.85 L509.07,440.64 L509.21,441.40 L509.35,442.14 L509.50,442.86 L509.64,443.57 L509.79,444.27 L509.94,444.96 L510.09,445.65 L510.25,446.34 L510.40,447.04 L510.55,447.74 L510.70,448.46 L510.85,449.19 L511,449.94 L511.15,450.72 L511.29,451.48 L511.46,452.38 L511.63,453.29 L511.75,453.98 L511.88,454.68 L512.01,455.38 L512.14,456.08 L512.27,456.79 L512.40,457.51 L512.53,458.24 L512.65,458.97 L512.78,459.71 L512.90,460.46 L513.03,461.22 L513.15,461.98 L513.27,462.76 L513.38,463.55 L513.50,464.35 L513.61,465.15 L513.71,465.97 L513.81,466.70 L513.91,467.60 L514.02,468.52 L514.10,469.22 L514.17,469.93 L514.25,470.64 L514.32,471.37 L514.39,472.09 L514.46,472.83 L514.53,473.57 L514.60,474.31 L514.67,475.06 L514.73,475.81 L514.80,476.57 L514.86,477.33 L514.93,478.09 L514.99,478.86 L515.06,479.63 L515.12,480.39 L515.18,481.16 L515.25,481.93 L515.31,482.70 L515.37,483.47 L515.44,484.23 L515.50,485 L515.56,485.73 L515.62,486.46 L515.68,487.22 L515.74,487.98 L515.80,488.75 L515.86,489.53 L515.92,490.31 L515.98,491.10 L516.04,491.90 L516.10,492.69 L516.15,493.49 L516.21,494.28 L516.27,495.07 L516.33,495.86 L516.38,496.64 L516.44,497.42 L516.49,498.18 L516.55,498.94 L516.60,499.68 L516.65,500.41 L516.71,501.12 L516.77,502.05 L516.84,502.94 L516.91,503.79 L516.97,504.61 L517.03,505.34 L517.11,506.32 L517.18,507.26 L517.25,508.16 L517.32,509.02 L517.38,509.84 L517.45,510.62 L517.51,511.37 L517.57,512.08 L517.65,512.98 L517.73,513.83 L517.81,514.63 L517.89,515.38 L517.98,516.08 L518.11,517.08 L518.21,517.85 L518.31,518.55 L518.47,519.42 L518.69,520.22 L519.34,519.75 L519.53,519.03 L519.72,518.18 L519.92,517.26 L520.13,516.34 L520.35,515.49 L520.58,514.77 L520.92,514 L521.28,513.35 L521.66,512.65 L521.94,511.98 L522.22,511.12 L522.41,510.41 L522.57,509.65 L522.71,508.90 L522.85,508.07 L522.99,507.18 L523.09,506.47 L523.19,505.74 L523.30,504.98 L523.40,504.20 L523.50,503.41 L523.61,502.60 L523.71,501.79 L523.82,500.98 L523.93,500.16 L524.04,499.35 L524.15,498.55 L524.26,497.77 L524.38,497 L524.50,496.25 L524.62,495.51 L524.75,494.76 L524.87,494 L525,493.24 L525.13,492.47 L525.27,491.70 L525.40,490.93 L525.54,490.16 L525.67,489.39 L525.81,488.63 L525.95,487.88 L526.09,487.13 L526.23,486.40 L526.36,485.67 L526.50,484.96 L526.64,484.27 L526.82,483.37 L527,482.50 L527.18,481.68 L527.36,480.92 L527.55,480.20 L527.74,479.52 L527.99,478.64 L528.24,477.79 L528.48,476.94 L528.72,476.06 L528.90,475.38 L529.07,474.66 L529.24,473.90 L529.40,473.08 L529.53,472.29 L529.67,471.45 L529.80,470.58 L529.93,469.68 L530.03,468.99 L530.12,468.28 L530.21,467.56 L530.30,466.83 L530.38,466.09 L530.47,465.34 L530.55,464.58 L530.63,463.82 L530.71,463.04 L530.79,462.26 L530.87,461.48 L530.95,460.69 L531.03,459.89 L531.10,459.10 L531.18,458.30 L531.25,457.50 L531.33,456.57 L531.39,455.87 L531.45,455.15 L531.50,454.43 L531.56,453.70 L531.61,452.96 L531.66,452.22 L531.71,451.47 L531.76,450.72 L531.80,449.97 L531.85,449.21 L531.90,448.45 L531.95,447.69 L531.99,446.93 L532.04,446.17 L532.09,445.41 L532.14,444.66 L532.19,443.91 L532.25,443.16 L532.30,442.42 L532.36,441.69 L532.42,440.96 L532.48,440.24 L532.55,439.49 L532.62,438.72 L532.69,437.94 L532.77,437.16 L532.84,436.38 L532.92,435.60 L533,434.82 L533.08,434.05 L533.16,433.27 L533.25,432.50 L533.33,431.74 L533.42,430.98 L533.50,430.23 L533.58,429.48 L533.67,428.75 L533.75,428.03 L533.83,427.31 L533.91,426.61 L534.02,425.70 L534.12,424.82 L534.23,423.96 L534.32,423.15 L534.42,422.27 L534.52,421.39 L534.61,420.52 L534.70,419.68 L534.79,418.85 L534.88,418.04 L534.97,417.27 L535.06,416.52 L535.15,415.80 L535.28,414.90 L535.41,414.07 L535.56,413.32 L535.75,412.50 L536.03,411.70 L536.51,411.03 L537.18,410.66 L537.85,410.21 L538.32,409.41 L538.63,408.74 L538.93,408.01 L539.24,407.28 L539.55,406.58 L539.88,405.94 L540.31,405.31 L540.80,404.75 L541.30,404.25 L541.82,403.75 L542.33,403.20 L542.78,402.64 L543.21,402.05 L543.64,401.44 L544.06,400.82 L544.48,400.22 L545,399.50 L545.50,398.94 L546.12,398.36 L546.71,397.59 L547.07,396.82 L547.35,395.96 L547.55,395.18 L547.76,394.34 L547.95,393.48 L548.15,392.64 L548.34,391.86 L548.52,391.18 L548.75,390.50 L549.20,389.69 L550,390 L550.29,390.77 L550.51,391.65 L550.68,392.43 L550.86,393.27 L551.05,394.13 L551.25,395 L551.46,395.88 L551.63,396.58 L551.81,397.32 L551.99,398.08 L552.17,398.85 L552.36,399.62 L552.55,400.37 L552.74,401.09 L552.94,401.78 L553.16,402.51 L553.40,403.27 L553.66,403.99 L553.91,404.69 L554.17,405.37 L554.43,406.03 L554.76,406.88 L555.10,407.76 L555.38,408.57 L555.65,409.39 L555.92,410.17 L556.19,410.86 L556.56,411.54 L557.36,411.68 L557.99,411.03 L558.58,410.52 L559.22,410.92 L559.63,411.69 L559.93,412.37 L560,412.50" stroke="rgba(0,0,0,0.5)" stroke-width="2.08" stroke-dasharray="7.71 3.33"/>
<path d="M410.50,455 L411.04,455.47 L411.50,456.50 L411.74,457.30 L411.94,458.03 L412.16,458.87 L412.33,459.58 L412.50,460.35 L412.68,461.20 L412.86,462.13 L413.04,463.14 L413.16,463.88 L413.29,464.72 L413.38,465.42 L413.47,466.15 L413.57,466.92 L413.66,467.72 L413.76,468.54 L413.86,469.38 L413.96,470.22 L414.06,471.07 L414.16,471.90 L414.26,472.73 L414.36,473.53 L414.46,474.30 L414.57,475.04 L414.67,475.74 L414.82,476.59 L414.96,477.33 L415.20,478.31 L415.52,479.24 L415.84,479.92 L416.29,480.60 L416.74,481.21 L417.19,481.96 L417.48,482.61 L417.85,483.45 L418.13,484.10 L418.41,484.76 L418.69,485.44 L418.97,486.13 L419.24,486.82 L419.52,487.53 L419.78,488.22 L420.04,488.91 L420.29,489.63 L420.55,490.37 L420.80,491.12 L421.05,491.85 L421.29,492.57 L421.54,493.26 L421.85,494.11 L422.12,494.80 L422.45,495.79 L422.66,496.47 L422.96,497.42 L423.27,498.16 L423.90,498.50 L424.20,497.82 L424.39,497.11 L424.58,496.25 L424.77,495.29 L424.96,494.28 L425.15,493.28 L425.34,492.34 L425.52,491.52 L425.77,490.69 L426.51,490.97 L426.71,491.71 L426.92,492.61 L427.12,493.59 L427.33,494.57 L427.56,495.46 L427.80,496.20 L428.11,496.92 L428.44,497.61 L428.79,498.26 L429.15,498.89 L429.50,499.52 L429.86,500.15 L430.20,500.80 L430.54,501.45 L430.88,502.07 L431.23,502.69 L431.57,503.32 L431.90,503.99 L432.21,504.71 L432.50,505.50 L432.76,506.39 L432.94,507.13 L433.11,507.93 L433.28,508.74 L433.44,509.56 L433.59,510.34 L433.74,511.09 L433.95,511.96 L434.23,512.92 L434.49,513.72 L434.73,514.39 L435.23,515.01 L435.72,514.34 L435.95,513.64 L436.19,512.74 L436.37,511.97 L436.55,511.13 L436.73,510.24 L436.91,509.33 L437.09,508.41 L437.24,507.59 L437.39,506.74 L437.54,505.85 L437.65,505.15 L437.75,504.44 L437.86,503.71 L437.97,502.96 L438.08,502.21 L438.19,501.44 L438.30,500.67 L438.41,499.89 L438.52,499.11 L438.64,498.33 L438.76,497.56 L438.87,496.83 L438.99,496.12 L439.10,495.39 L439.22,494.65 L439.34,493.89 L439.45,493.14 L439.58,492.37 L439.70,491.61 L439.82,490.85 L439.94,490.10 L440.06,489.36 L440.18,488.63 L440.31,487.91 L440.47,486.99 L440.62,486.12 L440.75,485.41 L440.91,484.56 L441.07,483.75 L441.22,482.97 L441.37,482.21 L441.52,481.48 L441.67,480.77 L441.82,480.08 L442.04,479.19 L442.26,478.33 L442.50,477.50 L442.75,476.72 L443.01,475.99 L443.29,475.30 L443.57,474.64 L443.86,474 L444.25,473.17 L444.62,472.34 L445,471.46 L445.29,470.71 L445.58,469.91 L445.87,469.11 L446.15,468.34 L446.44,467.63 L446.82,466.84 L447.43,466.12 L448.34,466.24 L449.03,466.73 L449.72,467.08 L450.40,467.26 L451.08,467.49 L451.71,467.96 L452.18,468.70 L452.52,469.55 L452.75,470.28 L452.97,471.05 L453.19,471.82 L453.42,472.56 L453.66,473.27 L453.88,474 L454.10,474.73 L454.33,475.46 L454.56,476.18 L454.82,476.86 L455.22,477.74 L455.61,478.43 L456.04,479.09 L456.48,479.70 L456.93,480.28 L457.50,481 L458,481.58 L458.49,482.09 L459.15,482.71 L459.80,483.30 L460.37,483.86 L460.94,484.44 L461.52,484.92 L462.34,485.24 L463.07,485.11 L463.81,484.80 L464.50,484.50 L465.23,484.36 L465.92,484.22 L466.50,483.75 L466.85,482.97 L467.05,482.15 L467.20,481.36 L467.41,480.38 L467.59,479.63 L467.77,478.79 L467.92,478.08 L468.07,477.31 L468.24,476.52 L468.41,475.70 L468.58,474.88 L468.76,474.07 L468.94,473.29 L469.13,472.55 L469.31,471.86 L469.60,470.96 L469.91,470.24 L470.36,469.48 L470.82,468.82 L471.28,468.11 L471.60,467.44 L471.91,466.59 L472.09,465.89 L472.27,465.10 L472.43,464.24 L472.59,463.33 L472.70,462.61 L472.81,461.86 L472.92,461.09 L473.03,460.31 L473.14,459.52 L473.24,458.72 L473.35,457.91 L473.46,457.11 L473.56,456.31 L473.67,455.52 L473.78,454.77 L473.89,454.04 L473.99,453.29 L474.10,452.52 L474.20,451.73 L474.31,450.93 L474.41,450.13 L474.52,449.32 L474.62,448.52 L474.73,447.73 L474.83,446.95 L474.94,446.19 L475.04,445.46 L475.14,444.75 L475.27,443.87 L475.40,443.05 L475.57,442.12 L475.70,441.42 L475.88,440.52 L476.06,439.76 L476.29,438.90 L476.54,438.13 L476.83,437.39 L477.22,436.52 L477.59,435.84 L477.98,435.21 L478.40,434.62 L478.96,433.89 L479.50,433.25 L480.09,432.70 L480.70,432.31 L481.47,431.80 L482,431.25 L482.36,430.60 L482.69,429.75 L483,428.87 L483.29,428.11 L483.75,427.50 L484.23,428.25 L484.45,429.03 L484.66,429.96 L484.91,430.93 L485.12,431.68 L485.30,432.46 L485.49,433.36 L485.69,434.30 L485.90,435.22 L486.11,436.07 L486.32,436.77 L486.68,437.46 L487.28,436.93 L487.56,436.23 L487.84,435.37 L488.12,434.44 L488.40,433.53 L488.66,432.73 L488.93,432.03 L489.19,431.35 L489.43,430.69 L489.68,430.03 L489.93,429.37 L490.20,428.70 L490.50,428 L490.90,427.21 L491.33,426.47 L491.79,425.70 L492.14,425.07 L492.48,424.38 L492.80,423.59 L493.06,422.81 L493.29,421.97 L493.46,421.29 L493.62,420.56 L493.78,419.80 L493.94,419.01 L494.10,418.22 L494.25,417.42 L494.40,416.63 L494.55,415.86 L494.70,415.12 L494.85,414.41 L495.07,413.46 L495.26,412.59 L495.45,411.72 L495.63,410.86 L495.81,410.03 L496,409.25 L496.18,408.55 L496.43,407.74 L496.75,407 L497.66,407.10 L498.35,407.70 L498.93,407.07 L499.14,406.25 L499.29,405.50 L499.42,404.67 L499.55,403.82 L499.68,402.97 L499.82,402.17 L499.95,401.46 L500.14,400.64 L500.33,399.65 L500.53,398.69 L500.73,397.85 L501.01,397.12 L501.65,397.61 L501.93,398.44 L502.15,399.21 L502.38,400.06 L502.61,400.97 L502.84,401.90 L503.05,402.70 L503.27,403.53 L503.49,404.40 L503.66,405.08 L503.83,405.79 L504,406.52 L504.17,407.26 L504.34,408.03 L504.51,408.81 L504.68,409.61 L504.84,410.42 L505,411.25 L505.16,412.12 L505.32,413 L505.47,413.88 L505.62,414.78 L505.76,415.70 L505.88,416.41 L505.99,417.13 L506.10,417.87 L506.21,418.63 L506.32,419.41 L506.43,420.22 L506.55,421.05 L506.67,421.91 L506.78,422.71 L506.89,423.58 L507.01,424.49 L507.09,425.20 L507.18,425.93 L507.26,426.67 L507.35,427.43 L507.44,428.20 L507.53,428.98 L507.61,429.76 L507.70,430.55 L507.79,431.34 L507.88,432.12 L507.98,432.91 L508.07,433.68 L508.16,434.45 L508.26,435.21 L508.35,435.96 L508.45,436.68 L508.55,437.39 L508.65,438.08 L508.79,439.03 L508.93,439.85 L509.07,440.64 L509.21,441.40 L509.35,442.14 L509.50,442.86 L509.64,443.57 L509.79,444.27 L509.94,444.96 L510.09,445.65 L510.25,446.34 L510.40,447.04 L510.55,447.74 L510.70,448.46 L510.85,449.19 L511,449.94 L511.15,450.72 L511.29,451.48 L511.46,452.38 L511.63,453.29 L511.75,453.98 L511.88,454.68 L512.01,455.38 L512.14,456.08 L512.27,456.79 L512.40,457.51 L512.53,458.24 L512.65,458.97 L512.78,459.71 L512.90,460.46 L513.03,461.22 L513.15,461.98 L513.27,462.76 L513.38,463.55 L513.50,464.35 L513.61,465.15 L513.71,465.97 L513.81,466.70 L513.91,467.60 L514.02,468.52 L514.10,469.22 L514.17,469.93 L514.25,470.64 L514.32,471.37 L514.39,472.09 L514.46,472.83 L514.53,473.57 L514.60,474.31 L514.67,475.06 L514.73,475.81 L514.80,476.57 L514.86,477.33 L514.93,478.09 L514.99,478.86 L515.06,479.63 L515.12,480.39 L515.18,481.16 L515.25,481.93 L515.31,482.70 L515.37,483.47 L515.44,484.23 L515.50,485 L515.56,485.73 L515.62,486.46 L515.68,487.22 L515.74,487.98 L515.80,488.75 L515.86,489.53 L515.92,490.31 L515.98,491.10 L516.04,491.90 L516.10,492.69 L516.15,493.49 L516.21,494.28 L516.27,495.07 L516.33,495.86 L516.38,496.64 L516.44,497.42 L516.49,498.18 L516.55,498.94 L516.60,499.68 L516.65,500.41 L516.71,501.12 L516.77,502.05 L516.84,502.94 L516.91,503.79 L516.97,504.61 L517.03,505.34 L517.11,506.32 L517.18,507.26 L517.25,508.16 L517.32,509.02 L517.38,509.84 L517.45,510.62 L517.51,511.37 L517.57,512.08 L517.65,512.98 L517.73,513.83 L517.81,514.63 L517.89,515.38 L517.98,516.08 L518.11,517.08 L518.21,517.85 L518.31,518.55 L518.47,519.42 L518.69,520.22 L519.34,519.75 L519.53,519.03 L519.72,518.18 L519.92,517.26 L520.13,516.34 L520.35,515.49 L520.58,514.77 L520.92,514 L521.28,513.35 L521.66,512.65 L521.94,511.98 L522.22,511.12 L522.41,510.41 L522.57,509.65 L522.71,508.90 L522.85,508.07 L522.99,507.18 L523.09,506.47 L523.19,505.74 L523.30,504.98 L523.40,504.20 L523.50,503.41 L523.61,502.60 L523.71,501.79 L523.82,500.98 L523.93,500.16 L524.04,499.35 L524.15,498.55 L524.26,497.77 L524.38,497 L524.50,496.25 L524.62,495.51 L524.75,494.76 L524.87,494 L525,493.24 L525.13,492.47 L525.27,491.70 L525.40,490.93 L525.54,490.16 L525.67,489.39 L525.81,488.63 L525.95,487.88 L526.09,487.13 L526.23,486.40 L526.36,485.67 L526.50,484.96 L526.64,484.27 L526.82,483.37 L527,482.50 L527.18,481.68 L527.36,480.92 L527.55,480.20 L527.74,479.52 L527.99,478.64 L528.24,477.79 L528.48,476.94 L528.72,476.06 L528.90,475.38 L529.07,474.66 L529.24,473.90 L529.40,473.08 L529.53,472.29 L529.67,471.45 L529.80,470.58 L529.93,469.68 L530.03,468.99 L530.12,468.28 L530.21,467.56 L530.30,466.83 L530.38,466.09 L530.47,465.34 L530.55,464.58 L530.63,463.82 L530.71,463.04 L530.79,462.26 L530.87,461.48 L530.95,460.69 L531.03,459.89 L531.10,459.10 L531.18,458.30 L531.25,457.50 L531.33,456.57 L531.39,455.87 L531.45,455.15 L531.50,454.43 L531.56,453.70 L531.61,452.96 L531.66,452.22 L531.71,451.47 L531.76,450.72 L531.80,449.97 L531.85,449.21 L531.90,448.45 L531.95,447.69 L531.99,446.93 L532.04,446.17 L532.09,445.41 L532.14,444.66 L532.19,443.91 L532.25,443.16 L532.30,442.42 L532.36,441.69 L532.42,440.96 L532.48,440.24 L532.55,439.49 L532.62,438.72 L532.69,437.94 L532.77,437.16 L532.84,436.38 L532.92,435.60 L533,434.82 L533.08,434.05 L533.16,433.27 L533.25,432.50 L533.33,431.74 L533.42,430.98 L533.50,430.23 L533.58,429.48 L533.67,428.75 L533.75,428.03 L533.83,427.31 L533.91,426.61 L534.02,425.70 L534.12,424.82 L534.23,423.96 L534.32,423.15 L534.42,422.27 L534.52,421.39 L534.61,420.52 L534.70,419.68 L534.79,418.85 L534.88,418.04 L534.97,417.27 L535.06,416.52 L535.15,415.80 L535.28,414.90 L535.41,414.07 L535.56,413.32 L535.75,412.50 L536.03,411.70 L536.51,411.03 L537.18,410.66 L537.85,410.21 L538.32,409.41 L538.63,408.74 L538.93,408.01 L539.24,407.28 L539.55,406.58 L539.88,405.94 L540.31,405.31 L540.80,404.75 L541.30,404.25 L541.82,403.75 L542.33,403.20 L542.78,402.64 L543.21,402.05 L543.64,401.44 L544.06,400.82 L544.48,400.22 L545,399.50 L545.50,398.94 L546.12,398.36 L546.71,397.59 L547.07,396.82 L547.35,395.96 L547.55,395.18 L547.76,394.34 L547.95,393.48 L548.15,392.64 L548.34,391.86 L548.52,391.18 L548.75,390.50 L549.20,389.69 L550,390 L550.29,390.77 L550.51,391.65 L550.68,392.43 L550.86,393.27 L551.05,394.13 L551.25,395 L551.46,395.88 L551.63,396.58 L551.81,397.32 L551.99,398.08 L552.17,398.85 L552.36,399.62 L552.55,400.37 L552.74,401.09 L552.94,401.78 L553.16,402.51 L553.40,403.27 L553.66,403.99 L553.91,404.69 L554.17,405.37 L554.43,406.03 L554.76,406.88 L555.10,407.76 L555.38,408.57 L555.65,409.39 L555.92,410.17 L556.19,410.86 L556.56,411.54 L557.36,411.68 L557.99,411.03 L558.58,410.52 L559.22,410.92 L559.63,411.69 L559.93,412.37 L560,412.50" stroke="rgba(76,114,176,0.75)" stroke-width="2.08" stroke-linecap="square"/>
</g>
<g>
<rect x="103.3" y="114.3" width="147.2" height="48.8" rx="3" ry="3" fill="rgba(234,234,242,0.8)" stroke="rgba(204,204,204,0.8)" stroke-width="1.1"/>
<line x1="108.7" y1="125.8" x2="139.3" y2="125.8" stroke="rgba(0,0,0,0.5)" stroke-width="2.08" stroke-dasharray="7.71 3.33"/>
<line x1="108.7" y1="148.9" x2="139.3" y2="148.9" stroke="rgba(76,114,176,0.75)" stroke-width="2.08" stroke-linecap="square"/>
<text x="153.2" y="131.6" font-size="16.4" textLength="90.3" lengthAdjust="spacingAndGlyphs">groundtruth</text>
<text x="153.2" y="153.8" font-size="16.4" textLength="24.5" lengthAdjust="spacingAndGlyphs">traj</text>
</g>
<g>
<text x="83.4" y="48.4" font-size="16.0" text-anchor="end" textLength="9.6" lengthAdjust="spacingAndGlyphs">4</text>
<text x="82.4" y="84.4" font-size="16.0" text-anchor="end" textLength="9.6" lengthAdjust="spacingAndGlyphs">2</text>
<text x="82.8" y="119.4" font-size="16.0" text-anchor="end" textLength="9.6" lengthAdjust="spacingAndGlyphs">0</text>
<text x="82.4" y="155.4" font-size="16.0" text-anchor="end" textLength="21.6" lengthAdjust="spacingAndGlyphs">−2</text>
<text x="82.0" y="229.4" font-size="16.0" text-anchor="end" textLength="23.0" lengthAdjust="spacingAndGlyphs">7.5</text>
<text x="82.0" y="260.4" font-size="16.0" text-anchor="end" textLength="23.0" lengthAdjust="spacingAndGlyphs">5.0</text>
<text x="82.0" y="291.4" font-size="16.0" text-anchor="end" textLength="23.0" lengthAdjust="spacingAndGlyphs">2.5</text>
<text x="82.0" y="322.4" font-size="16.0" text-anchor="end" textLength="23.0" lengthAdjust="spacingAndGlyphs">0.0</text>
<text x="82.0" y="353.4" font-size="16.0" text-anchor="end" textLength="35.0" lengthAdjust="spacingAndGlyphs">−2.5</text>
<text x="82.2" y="397.4" font-size="16.0" text-anchor="end" textLength="9.6" lengthAdjust="spacingAndGlyphs">1</text>
<text x="82.8" y="453.4" font-size="16.0" text-anchor="end" textLength="9.6" lengthAdjust="spacingAndGlyphs">0</text>
<text x="82.2" y="510.4" font-size="16.0" text-anchor="end" textLength="21.6" lengthAdjust="spacingAndGlyphs">−1</text>
<text x="102.9" y="552.4" font-size="16.0" text-anchor="middle" textLength="27.8" lengthAdjust="spacingAndGlyphs">575</text>
<text x="164.0" y="552.4" font-size="16.0" text-anchor="middle" textLength="27.8" lengthAdjust="spacingAndGlyphs">600</text>
<text x="224.7" y="552.4" font-size="16.0" text-anchor="middle" textLength="27.8" lengthAdjust="spacingAndGlyphs">625</text>
<text x="285.5" y="552.4" font-size="16.0" text-anchor="middle" textLength="27.8" lengthAdjust="spacingAndGlyphs">650</text>
<text x="345.9" y="552.4" font-size="16.0" text-anchor="middle" textLength="27.8" lengthAdjust="spacingAndGlyphs">675</text>
<text x="407.4" y="552.4" font-size="16.0" text-anchor="middle" textLength="27.8" lengthAdjust="spacingAndGlyphs">700</text>
<text x="468.1" y="552.4" font-size="16.0" text-anchor="middle" textLength="27.8" lengthAdjust="spacingAndGlyphs">725</text>
<text x="529.3" y="552.4" font-size="16.0" text-anchor="middle" textLength="27.8" lengthAdjust="spacingAndGlyphs">750</text>
<text x="582.0" y="572.8" font-size="16.0" text-anchor="end" textLength="103.4" lengthAdjust="spacingAndGlyphs">+1.403636e9</text>
</g>
<g font-size="17.0">
<text x="339" y="577.3" text-anchor="middle" textLength="32.6" lengthAdjust="spacingAndGlyphs"><tspan class="it">t</tspan> (s)</text>
<text transform="translate(47.8,95.5) rotate(-90)" text-anchor="middle" textLength="44.0" lengthAdjust="spacingAndGlyphs"><tspan class="it">x</tspan> (m)</text>
<text transform="translate(32.9,273.8) rotate(-90)" text-anchor="middle" textLength="44.0" lengthAdjust="spacingAndGlyphs"><tspan class="it">y</tspan> (m)</text>
<text transform="translate(47.8,453.2) rotate(-90)" text-anchor="middle" textLength="44.0" lengthAdjust="spacingAndGlyphs"><tspan class="it">z</tspan> (m)</text>
</g>
</svg>
</body></html>
